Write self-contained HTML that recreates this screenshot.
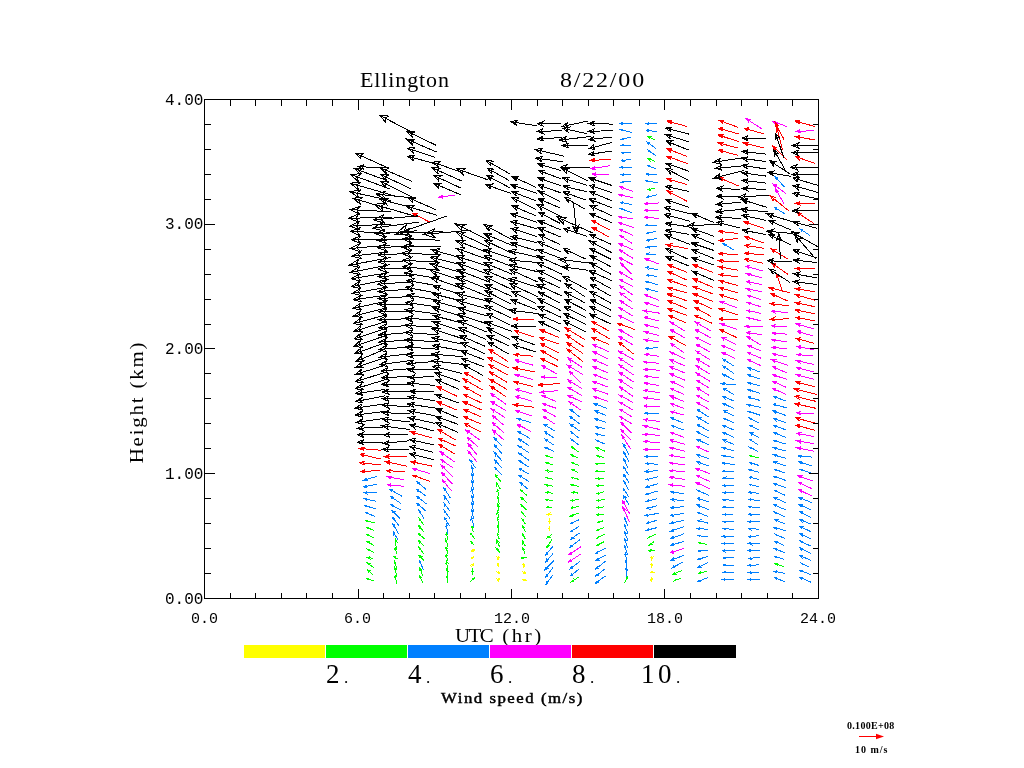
<!DOCTYPE html>
<html><head><meta charset="utf-8"><title>Ellington 8/22/00 wind profile</title>
<style>
html,body{margin:0;padding:0;background:#fff;}
body{width:1024px;height:768px;position:relative;overflow:hidden;font-family:"Liberation Serif",serif;color:#000;}
svg{position:absolute;left:0;top:0;}
.t{position:absolute;white-space:nowrap;line-height:1;}
.mono{font-family:"Liberation Mono",monospace;font-size:16px;}
.bar{position:absolute;top:645px;height:13px;width:81px;}
</style></head><body>
<div class="t" id="title1" style="left:360px;top:70px;font-size:20px;letter-spacing:0.8px;transform:scaleX(1.1);transform-origin:0 0;">Ellington</div>
<div class="t" id="title2" style="left:560px;top:70px;font-size:20px;letter-spacing:1.5px;transform:scaleX(1.2);transform-origin:0 0;">8/22/00</div>
<div class="t mono" style="left:165px;top:93px;">4.00</div>
<div class="t mono" style="left:165px;top:217px;">3.00</div>
<div class="t mono" style="left:165px;top:342px;">2.00</div>
<div class="t mono" style="left:165px;top:467px;">1.00</div>
<div class="t mono" style="left:165px;top:592px;">0.00</div>
<div class="t mono" style="font-size:15px;left:191px;top:612px;">0.0</div>
<div class="t mono" style="font-size:15px;left:344px;top:612px;">6.0</div>
<div class="t mono" style="font-size:15px;left:494px;top:612px;">12.0</div>
<div class="t mono" style="font-size:15px;left:647px;top:612px;">18.0</div>
<div class="t mono" style="font-size:15px;left:800px;top:612px;">24.0</div>
<div class="t" id="ylab" style="left:136px;top:402px;font-size:19px;letter-spacing:1.65px;transform:translate(-50%,-50%) rotate(-90deg) scaleX(1.1);">Height (km)</div>
<div class="t" id="xlab" style="left:455px;top:626px;font-size:19px;transform:scaleX(1.1);transform-origin:0 0;"><span style="letter-spacing:-1.4px">UTC</span><span style="letter-spacing:4.4px"> </span><span style="letter-spacing:2.3px">(hr)</span></div>
<div class="bar" style="left:244px;background:#ffff00;"></div>
<div class="bar" style="left:326px;background:#00ff00;"></div>
<div class="bar" style="left:408px;background:#0080ff;"></div>
<div class="bar" style="left:490px;background:#ff00ff;"></div>
<div class="bar" style="left:572px;background:#ff0000;"></div>
<div class="bar" style="left:654px;background:#000000;width:82px"></div>
<div class="t cb" style="left:326px;top:661px;font-size:27px;letter-spacing:3.5px;">2<span style="font-size:17px;letter-spacing:0;margin-left:1px;">.</span></div>
<div class="t cb" style="left:408px;top:661px;font-size:27px;letter-spacing:3.5px;">4<span style="font-size:17px;letter-spacing:0;margin-left:1px;">.</span></div>
<div class="t cb" style="left:490px;top:661px;font-size:27px;letter-spacing:3.5px;">6<span style="font-size:17px;letter-spacing:0;margin-left:1px;">.</span></div>
<div class="t cb" style="left:572px;top:661px;font-size:27px;letter-spacing:3.5px;">8<span style="font-size:17px;letter-spacing:0;margin-left:1px;">.</span></div>
<div class="t cb" style="left:641px;top:661px;font-size:27px;letter-spacing:3.5px;">10<span style="font-size:17px;letter-spacing:0;margin-left:1px;">.</span></div>
<div class="t" id="ws" style="left:441px;top:691px;font-size:15px;font-weight:normal;-webkit-text-stroke:0.45px #000;letter-spacing:1.35px;transform:scaleX(1.12);transform-origin:0 0;">Wind speed (m/s)</div>
<div class="t" id="l1" style="left:847px;top:721px;font-size:10px;font-weight:bold;letter-spacing:0.3px;">0.100E+08</div>
<div class="t" id="l2" style="left:855px;top:745px;font-size:10px;font-weight:bold;letter-spacing:1px;">10 m/s</div>
<svg width="1024" height="768" viewBox="0 0 1024 768" shape-rendering="crispEdges">
<path d="M204.5 99.5H818.5V598.5H204.5ZM230.5 99.5v6M230.5 598.5v-6M255.5 99.5v6M255.5 598.5v-6M281.5 99.5v6M281.5 598.5v-6M306.5 99.5v6M306.5 598.5v-6M332.5 99.5v6M332.5 598.5v-6M358.5 99.5v10M358.5 598.5v-10M383.5 99.5v6M383.5 598.5v-6M409.5 99.5v6M409.5 598.5v-6M434.5 99.5v6M434.5 598.5v-6M460.5 99.5v6M460.5 598.5v-6M485.5 99.5v6M485.5 598.5v-6M511.5 99.5v10M511.5 598.5v-10M537.5 99.5v6M537.5 598.5v-6M562.5 99.5v6M562.5 598.5v-6M588.5 99.5v6M588.5 598.5v-6M613.5 99.5v6M613.5 598.5v-6M639.5 99.5v6M639.5 598.5v-6M664.5 99.5v10M664.5 598.5v-10M690.5 99.5v6M690.5 598.5v-6M716.5 99.5v6M716.5 598.5v-6M741.5 99.5v6M741.5 598.5v-6M767.5 99.5v6M767.5 598.5v-6M792.5 99.5v6M792.5 598.5v-6M204.5 573.5h6M818.5 573.5h-6M204.5 548.5h6M818.5 548.5h-6M204.5 523.5h6M818.5 523.5h-6M204.5 498.5h6M818.5 498.5h-6M204.5 473.5h10M818.5 473.5h-10M204.5 448.5h6M818.5 448.5h-6M204.5 423.5h6M818.5 423.5h-6M204.5 398.5h6M818.5 398.5h-6M204.5 373.5h6M818.5 373.5h-6M204.5 348.5h10M818.5 348.5h-10M204.5 324.5h6M818.5 324.5h-6M204.5 299.5h6M818.5 299.5h-6M204.5 274.5h6M818.5 274.5h-6M204.5 249.5h6M818.5 249.5h-6M204.5 224.5h10M818.5 224.5h-10M204.5 199.5h6M818.5 199.5h-6M204.5 174.5h6M818.5 174.5h-6M204.5 149.5h6M818.5 149.5h-6M204.5 124.5h6M818.5 124.5h-6" stroke="#000" fill="none" stroke-width="1"/>
<defs><clipPath id="pc"><rect x="205" y="100" width="614" height="499"/></clipPath></defs><g clip-path="url(#pc)">
<path d="M471.6 566.9L473.6 563.4M471.8 564.9L473.6 563.4L473.2 565.8L472.9 564.7ZM474.4 557.9L470.9 557.9M473.1 558.8L470.9 557.9L473.1 557.0L472.4 557.9ZM470.7 551.3L474.5 550.0M472.1 549.9L474.5 550.0L472.7 551.6L473.1 550.5ZM498.2 577.6L498.2 581.6M499.1 579.4L498.2 581.6L497.3 579.4L498.2 580.1ZM496.3 571.7L500.1 573.0M498.3 571.5L500.1 573.0L497.7 573.1L498.7 572.5ZM498.2 567.1L498.2 563.1M497.3 565.4L498.2 563.1L499.1 565.4L498.2 564.6ZM498.2 555.9L498.2 559.9M499.1 557.7L498.2 559.9L497.3 557.7L498.2 558.4ZM521.9 578.9L525.7 580.3M523.9 578.7L525.7 580.3L523.3 580.3L524.3 579.8ZM521.9 571.7L525.7 573.0M523.9 571.5L525.7 573.0L523.3 573.1L524.3 572.5ZM523.8 563.1L523.8 567.1M524.7 564.9L523.8 567.1L522.9 564.9L523.8 565.6ZM549.4 531.0L549.4 527.0M548.5 529.2L549.4 527.0L550.2 529.2L549.4 528.4ZM549.4 523.7L549.4 519.7M548.5 522.0L549.4 519.7L550.2 522.0L549.4 521.2ZM551.9 514.5L546.9 514.5M549.1 515.3L546.9 514.5L549.1 513.6L548.4 514.5ZM651.7 581.6L651.7 577.6M650.8 579.8L651.7 577.6L652.6 579.8L651.7 579.1ZM649.7 572.4L653.7 572.4M651.5 571.5L653.7 572.4L651.5 573.2L652.2 572.4ZM651.7 563.1L651.7 567.1M652.6 564.9L651.7 567.1L650.8 564.9L651.7 565.6ZM651.7 555.9L651.7 559.9M652.6 557.7L651.7 559.9L650.8 557.7L651.7 558.4Z" stroke="#ffff00" fill="none" stroke-width="1"/>
<path d="M374.2 581.1L366.4 578.1M368.2 579.7L366.4 578.1L368.8 578.1L367.8 578.6ZM372.9 575.0L367.6 569.7M368.6 571.9L367.6 569.7L369.8 570.7L368.7 570.8ZM373.6 567.4L367.0 562.8M368.4 564.8L367.0 562.8L369.3 563.4L368.2 563.7ZM373.2 558.4L367.3 557.4M369.4 558.6L367.3 557.4L369.7 556.9L368.8 557.6ZM373.8 552.3L366.8 549.0M368.5 550.8L366.8 549.0L369.2 549.2L368.2 549.7ZM373.8 545.4L366.8 541.4M368.3 543.3L366.8 541.4L369.2 541.8L368.1 542.2ZM374.2 538.0L366.4 534.4M368.1 536.1L366.4 534.4L368.8 534.5L367.7 535.0ZM374.2 530.5L366.4 527.4M368.2 529.0L366.4 527.4L368.8 527.4L367.8 527.9ZM374.8 522.9L365.8 520.5M367.7 521.9L365.8 520.5L368.1 520.3L367.2 520.9ZM396.7 584.0L395.1 575.2M394.6 577.5L395.1 575.2L396.3 577.2L395.4 576.6ZM396.9 577.0L394.8 567.7M394.5 570.1L394.8 567.7L396.1 569.7L395.1 569.2ZM397.1 568.9L394.6 561.3M394.5 563.7L394.6 561.3L396.1 563.2L395.1 562.7ZM397.8 559.0L393.9 556.8M395.4 558.6L393.9 556.8L396.3 557.1L395.2 557.5ZM396.5 554.1L395.3 547.2M394.8 549.6L395.3 547.2L396.5 549.3L395.5 548.7ZM396.1 547.7L395.7 539.2M394.9 541.5L395.7 539.2L396.6 541.4L395.7 540.7ZM423.1 583.2L419.8 576.0M419.9 578.4L419.8 576.0L421.5 577.6L420.4 577.3ZM423.0 576.3L419.9 568.5M419.9 570.9L419.9 568.5L421.5 570.2L420.4 569.9ZM424.0 560.5L418.9 555.3M419.9 557.5L418.9 555.3L421.1 556.3L419.9 556.4ZM424.0 554.2L418.9 547.1M419.5 549.5L418.9 547.1L420.9 548.4L419.8 548.3ZM424.3 546.3L418.6 540.6M419.6 542.8L418.6 540.6L420.8 541.6L419.7 541.6ZM424.4 538.9L418.5 533.5M419.6 535.6L418.5 533.5L420.8 534.4L419.6 534.5ZM424.3 532.5L418.6 525.5M419.4 527.7L418.6 525.5L420.7 526.7L419.6 526.6ZM423.8 525.2L419.1 518.2M419.6 520.5L419.1 518.2L421.0 519.6L419.9 519.4ZM447.0 583.4L447.0 575.9M446.2 578.1L447.0 575.9L447.9 578.1L447.0 577.3ZM447.0 576.4L447.0 568.4M446.2 570.6L447.0 568.4L447.9 570.6L447.0 569.9ZM447.6 569.3L446.5 560.9M445.9 563.2L446.5 560.9L447.7 563.0L446.7 562.4ZM448.0 561.4L446.1 554.4M445.8 556.8L446.1 554.4L447.5 556.3L446.5 555.8ZM448.1 554.5L446.0 546.8M445.8 549.2L446.0 546.8L447.4 548.7L446.4 548.2ZM448.2 547.3L445.9 539.6M445.7 542.0L445.9 539.6L447.3 541.5L446.3 541.0ZM447.7 540.1L446.3 532.3M445.9 534.6L446.3 532.3L447.6 534.3L446.6 533.7ZM470.5 581.7L474.7 577.5M472.6 578.5L474.7 577.5L473.8 579.7L473.7 578.5ZM472.6 575.1L472.6 569.6M471.8 571.9L472.6 569.6L473.5 571.9L472.6 571.1ZM474.2 545.3L471.0 541.5M471.8 543.8L471.0 541.5L473.1 542.7L472.0 542.6ZM475.1 539.3L470.2 533.0M470.9 535.3L470.2 533.0L472.2 534.3L471.1 534.2ZM473.2 532.2L472.1 525.8M471.6 528.1L472.1 525.8L473.3 527.8L472.3 527.2ZM500.1 553.0L496.3 548.4M497.1 550.6L496.3 548.4L498.4 549.5L497.2 549.5ZM499.5 546.7L496.9 540.2M496.9 542.6L496.9 540.2L498.5 541.9L497.5 541.6ZM499.4 539.5L497.0 532.9M497.0 535.3L497.0 532.9L498.6 534.7L497.5 534.3ZM499.0 532.6L497.4 525.3M497.1 527.7L497.4 525.3L498.7 527.3L497.7 526.7ZM499.0 525.4L497.4 518.1M497.0 520.4L497.4 518.1L498.7 520.1L497.7 519.5ZM499.1 518.1L497.3 510.8M497.0 513.2L497.3 510.8L498.7 512.8L497.7 512.3ZM499.1 510.9L497.3 503.6M497.0 506.0L497.3 503.6L498.7 505.6L497.6 505.1ZM499.2 503.6L497.2 496.4M497.0 498.8L497.2 496.4L498.6 498.3L497.6 497.8ZM499.2 496.4L497.2 489.2M497.0 491.6L497.2 489.2L498.6 491.1L497.6 490.6ZM500.1 488.8L496.3 482.3M496.7 484.7L496.3 482.3L498.2 483.8L497.1 483.6ZM501.0 481.9L495.4 474.8M496.1 477.1L495.4 474.8L497.5 476.0L496.4 475.9ZM526.5 557.9L521.0 557.9M523.3 558.8L521.0 557.9L523.3 557.0L522.5 557.9ZM525.0 553.4L522.6 547.9M522.7 550.3L522.6 547.9L524.3 549.6L523.2 549.3ZM525.2 545.8L522.4 541.0M522.8 543.4L522.4 541.0L524.3 542.6L523.2 542.3ZM525.4 539.3L522.2 533.1M522.5 535.5L522.2 533.1L524.0 534.7L522.9 534.4ZM525.4 532.1L522.2 525.8M522.5 528.2L522.2 525.8L524.0 527.4L522.9 527.2ZM525.6 524.4L522.0 519.0M522.5 521.3L522.0 519.0L524.0 520.4L522.8 520.2ZM526.0 516.9L521.6 512.1M522.5 514.3L521.6 512.1L523.7 513.2L522.6 513.2ZM526.7 510.0L520.9 504.5M521.9 506.7L520.9 504.5L523.1 505.4L522.0 505.5ZM526.9 502.6L520.7 497.4M521.9 499.5L520.7 497.4L523.0 498.2L521.9 498.4ZM526.9 495.5L520.7 490.1M521.8 492.2L520.7 490.1L522.9 490.9L521.8 491.0ZM551.9 539.5L546.8 547.4M548.8 546.0L546.8 547.4L547.3 545.0L547.6 546.1ZM552.0 534.4L546.8 538.0M549.1 537.4L546.8 538.0L548.1 536.0L548.0 537.1ZM552.1 507.2L546.6 507.2M548.9 508.1L546.6 507.2L548.9 506.4L548.1 507.2ZM553.0 500.3L545.7 499.7M547.9 500.7L545.7 499.7L548.0 499.0L547.2 499.8ZM553.0 493.3L545.7 492.3M547.8 493.4L545.7 492.3L548.0 491.7L547.2 492.5ZM553.0 486.3L545.7 484.8M547.7 486.1L545.7 484.8L548.1 484.4L547.2 485.1ZM553.1 479.4L545.7 477.2M547.6 478.7L545.7 477.2L548.1 477.0L547.1 477.6ZM553.0 471.9L545.7 470.3M547.7 471.6L545.7 470.3L548.1 469.9L547.2 470.6ZM553.3 465.0L545.5 462.6M547.3 464.1L545.5 462.6L547.8 462.5L546.9 463.1ZM553.4 458.2L545.3 455.0M547.1 456.7L545.3 455.0L547.7 455.0L546.7 455.6ZM578.4 577.3L571.5 581.9M573.9 581.4L571.5 581.9L572.9 580.0L572.8 581.1ZM579.3 512.9L570.6 516.1M573.0 516.1L570.6 516.1L572.4 514.5L572.0 515.6ZM578.9 506.5L571.0 508.0M573.4 508.4L571.0 508.0L573.1 506.7L572.5 507.7ZM579.3 499.2L570.6 500.8M572.9 501.2L570.6 500.8L572.6 499.6L572.0 500.5ZM578.4 493.1L571.5 492.4M573.6 493.5L571.5 492.4L573.8 491.8L573.0 492.6ZM578.9 486.3L571.0 484.8M573.1 486.1L571.0 484.8L573.4 484.4L572.5 485.1ZM578.9 479.4L571.1 477.2M573.0 478.6L571.1 477.2L573.5 477.0L572.5 477.6ZM578.4 472.4L571.5 469.7M573.3 471.4L571.5 469.7L573.9 469.7L572.9 470.3ZM578.6 465.4L571.3 462.3M573.0 463.9L571.3 462.3L573.7 462.4L572.6 462.9ZM578.4 458.3L571.5 454.9M573.1 456.7L571.5 454.9L573.9 455.1L572.8 455.6ZM578.6 452.1L571.3 446.6M572.6 448.6L571.3 446.6L573.6 447.3L572.5 447.5ZM604.4 541.5L596.7 545.4M599.1 545.1L596.7 545.4L598.3 543.6L598.0 544.7ZM604.4 534.2L596.7 538.2M599.1 537.9L596.7 538.2L598.3 536.4L598.0 537.5ZM604.4 527.5L596.6 530.4M599.0 530.4L596.6 530.4L598.5 528.8L598.0 529.9ZM603.4 520.7L597.7 522.7M600.1 522.8L597.7 522.7L599.5 521.2L599.1 522.2ZM604.4 514.1L596.7 514.9M599.0 515.5L596.7 514.9L598.8 513.8L598.1 514.7ZM604.4 506.9L596.7 507.6M599.0 508.3L596.7 507.6L598.8 506.5L598.1 507.5ZM604.5 499.3L596.6 500.8M599.0 501.2L596.6 500.8L598.7 499.5L598.1 500.5ZM604.4 491.7L596.7 493.8M599.1 494.1L596.7 493.8L598.6 492.4L598.1 493.4ZM604.4 485.2L596.7 485.9M599.0 486.5L596.7 485.9L598.8 484.8L598.1 485.8ZM604.4 478.1L596.6 478.5M598.9 479.3L596.6 478.5L598.8 477.5L598.1 478.4ZM605.2 471.1L595.8 471.1M598.1 471.9L595.8 471.1L598.1 470.2L597.3 471.1ZM605.2 463.8L595.8 463.8M598.1 464.7L595.8 463.8L598.1 463.0L597.3 463.8ZM604.1 457.7L597.0 455.5M598.8 457.0L597.0 455.5L599.3 455.3L598.4 455.9ZM604.9 451.2L596.2 447.5M597.9 449.2L596.2 447.5L598.6 447.6L597.6 448.1ZM624.9 582.7L627.3 576.5M625.7 578.3L627.3 576.5L627.3 578.9L626.8 577.9ZM654.7 550.7L648.7 550.7M650.9 551.5L648.7 550.7L650.9 549.8L650.2 550.7ZM654.3 541.5L649.1 545.3M651.4 544.7L649.1 545.3L650.4 543.3L650.3 544.4ZM655.6 534.4L647.8 538.0M650.2 537.8L647.8 538.0L649.5 536.3L649.2 537.4ZM655.3 140.0L648.1 136.5M649.8 138.3L648.1 136.5L650.5 136.7L649.5 137.2ZM655.3 161.5L648.1 158.4M649.8 160.1L648.1 158.4L650.5 158.5L649.5 159.0ZM655.6 187.9L647.8 189.9M650.2 190.2L647.8 189.9L649.8 188.5L649.3 189.5ZM680.7 578.2L673.9 581.0M676.3 580.9L673.9 581.0L675.6 579.3L675.2 580.4ZM681.7 570.8L672.9 574.0M675.3 574.0L672.9 574.0L674.7 572.4L674.3 573.4ZM707.3 571.0L698.4 573.7M700.8 573.9L698.4 573.7L700.3 572.2L699.9 573.3ZM707.4 544.6L698.3 542.3M700.3 543.7L698.3 542.3L700.7 542.0L699.8 542.6ZM758.5 458.0L749.6 455.2M751.5 456.7L749.6 455.2L752.0 455.0L751.0 455.6ZM784.1 566.6L775.2 563.7M777.0 565.2L775.2 563.7L777.6 563.6L776.6 564.1Z" stroke="#00ff00" fill="none" stroke-width="1"/>
<path d="M375.2 516.7L365.4 512.3M367.2 514.1L365.4 512.3L367.9 512.4L366.8 512.9ZM376.5 509.2L364.1 505.3M366.5 507.3L364.1 505.3L367.2 505.1L365.9 505.9ZM376.4 501.4L364.2 498.6M366.7 500.3L364.2 498.6L367.2 498.2L366.0 499.0ZM376.7 493.0L363.9 492.6M366.7 493.8L363.9 492.6L366.8 491.6L365.8 492.6ZM377.2 484.3L363.4 486.8M366.7 487.4L363.4 486.8L366.3 485.0L365.4 486.4ZM377.2 476.3L363.4 480.3M366.8 480.6L363.4 480.3L366.2 478.2L365.5 479.7ZM398.5 540.5L393.3 531.9M393.7 534.3L393.3 531.9L395.2 533.4L394.1 533.2ZM398.9 534.2L392.9 523.8M393.3 526.6L392.9 523.8L395.1 525.6L393.8 525.3ZM399.3 526.1L392.5 517.4M393.3 519.9L392.5 517.4L394.8 518.7L393.5 518.7ZM400.2 518.7L391.6 510.3M392.8 512.9L391.6 510.3L394.2 511.4L392.8 511.6ZM400.8 509.7L390.9 504.8M392.7 506.8L390.9 504.8L393.6 505.1L392.4 505.6ZM401.1 503.6L390.6 496.5M392.4 499.0L390.6 496.5L393.6 497.1L392.2 497.5ZM402.1 496.4L389.7 489.2M391.8 491.9L389.7 489.2L393.1 489.7L391.5 490.3ZM423.4 569.7L419.5 560.5M419.6 562.9L419.5 560.5L421.2 562.3L420.1 561.9ZM424.1 518.7L418.8 510.2M419.3 512.6L418.8 510.2L420.7 511.7L419.6 511.5ZM426.1 511.2L416.8 503.3M418.2 505.9L416.8 503.3L419.6 504.3L418.2 504.5ZM426.3 503.8L416.7 496.3M418.2 498.8L416.7 496.3L419.5 497.1L418.1 497.4ZM426.5 496.3L416.5 489.3M418.1 491.7L416.5 489.3L419.3 490.0L417.9 490.3ZM426.1 489.5L416.8 481.6M418.2 484.2L416.8 481.6L419.6 482.6L418.2 482.8ZM447.7 533.8L446.4 524.1M445.8 526.4L446.4 524.1L447.5 526.2L446.6 525.6ZM449.5 526.1L444.5 517.4M444.9 519.8L444.5 517.4L446.4 518.9L445.3 518.7ZM449.9 518.6L444.2 510.4M444.8 512.7L444.2 510.4L446.2 511.7L445.0 511.6ZM450.0 511.3L444.1 503.2M444.7 505.5L444.1 503.2L446.1 504.5L445.0 504.4ZM450.2 504.3L443.9 495.7M444.6 498.2L443.9 495.7L446.1 497.1L444.9 497.0ZM450.3 497.8L443.8 487.7M444.4 490.6L443.8 487.7L446.1 489.4L444.7 489.2ZM474.0 526.5L471.2 516.9M471.0 519.3L471.2 516.9L472.7 518.8L471.7 518.3ZM474.0 519.3L471.3 509.7M471.1 512.1L471.3 509.7L472.7 511.6L471.7 511.1ZM473.9 512.1L471.3 502.4M471.1 504.8L471.3 502.4L472.7 504.4L471.7 503.9ZM473.9 504.9L471.4 495.2M471.1 497.6L471.4 495.2L472.8 497.1L471.7 496.6ZM473.9 497.6L471.4 487.9M471.1 490.3L471.4 487.9L472.8 489.9L471.8 489.4ZM473.8 490.4L471.4 480.7M471.1 483.1L471.4 480.7L472.8 482.7L471.8 482.1ZM473.8 483.2L471.5 473.4M471.1 475.8L471.5 473.4L472.8 475.4L471.8 474.9ZM473.7 475.9L471.5 466.2M471.2 468.6L471.5 466.2L472.8 468.2L471.8 467.7ZM475.5 467.9L469.8 459.7M470.3 462.1L469.8 459.7L471.7 461.1L470.6 461.0ZM501.6 474.7L494.8 467.4M495.7 469.6L494.8 467.4L497.0 468.5L495.8 468.5ZM502.1 468.2L494.3 459.5M495.3 462.1L494.3 459.5L496.8 460.8L495.5 460.8ZM502.1 460.9L494.3 452.3M495.3 454.9L494.3 452.3L496.8 453.6L495.5 453.6ZM502.1 453.8L494.3 444.9M495.3 447.6L494.3 444.9L496.8 446.2L495.5 446.2ZM502.4 446.5L494.0 437.8M495.2 440.5L494.0 437.8L496.7 439.0L495.3 439.1ZM527.5 488.7L520.0 482.4M521.2 484.5L520.0 482.4L522.3 483.2L521.2 483.4ZM528.7 481.5L518.9 475.2M520.6 477.4L518.9 475.2L521.7 475.7L520.4 476.1ZM528.5 474.0L519.1 468.2M520.7 470.3L519.1 468.2L521.7 468.7L520.5 469.0ZM528.5 467.0L519.1 460.7M520.7 462.9L519.1 460.7L521.8 461.3L520.5 461.6ZM528.9 460.4L518.7 452.9M520.4 455.4L518.7 452.9L521.6 453.7L520.2 454.0ZM529.2 452.9L518.3 445.8M520.2 448.4L518.3 445.8L521.4 446.5L520.0 446.9ZM529.2 445.7L518.3 438.6M520.2 441.1L518.3 438.6L521.4 439.2L520.0 439.6ZM530.0 438.4L517.6 431.4M519.8 434.0L517.6 431.4L521.0 431.9L519.4 432.5ZM530.6 422.5L517.0 418.4M519.7 420.5L517.0 418.4L520.4 418.1L519.0 419.0ZM553.0 574.8L545.8 584.4M548.2 582.9L545.8 584.4L546.6 581.6L546.8 583.0ZM553.1 567.5L545.7 577.3M548.2 575.7L545.7 577.3L546.5 574.4L546.8 575.8ZM554.1 560.3L544.7 570.0M547.6 568.6L544.7 570.0L546.0 567.0L546.1 568.5ZM553.0 553.6L545.7 562.2M548.1 560.9L545.7 562.2L546.6 559.7L546.8 560.9ZM553.0 546.3L545.7 555.0M548.1 553.7L545.7 555.0L546.6 552.4L546.8 553.7ZM553.8 451.4L544.9 447.3M546.6 449.0L544.9 447.3L547.3 447.5L546.3 448.0ZM553.8 445.1L544.9 439.1M546.4 441.2L544.9 439.1L547.4 439.7L546.3 440.0ZM554.2 438.3L544.5 431.5M546.1 433.8L544.5 431.5L547.3 432.2L546.0 432.5ZM555.1 431.2L543.7 424.1M545.6 426.7L543.7 424.1L546.8 424.7L545.4 425.2ZM579.5 568.7L570.4 576.0M573.1 575.2L570.4 576.0L571.8 573.6L571.8 575.0ZM580.1 561.2L569.8 569.0M572.8 568.2L569.8 569.0L571.4 566.4L571.3 567.9ZM580.1 539.5L569.8 547.3M572.8 546.5L569.8 547.3L571.4 544.7L571.3 546.2ZM579.3 533.1L570.6 539.3M573.1 538.6L570.6 539.3L572.0 537.1L571.9 538.3ZM579.3 526.2L570.6 531.7M573.0 531.2L570.6 531.7L572.1 529.7L571.9 530.9ZM579.3 519.6L570.6 523.8M573.0 523.6L570.6 523.8L572.2 522.1L571.9 523.2ZM579.1 445.3L570.8 439.0M572.1 441.1L570.8 439.0L573.2 439.7L572.0 439.9ZM579.1 438.3L570.8 431.5M572.1 433.8L570.8 431.5L573.2 432.3L572.0 432.5ZM580.0 431.2L569.9 424.1M571.5 426.6L569.9 424.1L572.8 424.8L571.4 425.2ZM580.1 424.3L569.8 416.5M571.4 419.2L569.8 416.5L572.8 417.4L571.3 417.7ZM580.2 417.3L569.7 409.1M571.4 411.8L569.7 409.1L572.8 410.0L571.3 410.3ZM605.5 575.9L595.6 583.3M598.5 582.5L595.6 583.3L597.2 580.8L597.1 582.2ZM605.5 568.5L595.6 576.2M598.5 575.3L595.6 576.2L597.2 573.6L597.1 575.1ZM605.5 561.3L595.6 569.0M598.5 568.1L595.6 569.0L597.2 566.4L597.1 567.8ZM605.5 555.2L595.6 560.6M598.3 560.3L595.6 560.6L597.3 558.6L597.1 559.8ZM605.4 548.1L595.6 553.3M598.3 552.9L595.6 553.3L597.4 551.3L597.1 552.5ZM605.2 444.2L595.8 440.0M597.6 441.8L595.8 440.0L598.3 440.2L597.2 440.7ZM605.3 436.1L595.8 433.7M597.8 435.1L595.8 433.7L598.2 433.4L597.2 434.1ZM605.4 428.5L595.7 426.9M597.8 428.1L595.7 426.9L598.1 426.4L597.2 427.1ZM606.3 422.3L594.7 418.5M597.0 420.4L594.7 418.5L597.7 418.4L596.5 419.1ZM606.3 415.5L594.7 410.9M596.9 412.9L594.7 410.9L597.7 410.9L596.5 411.6ZM607.2 408.5L593.9 403.4M596.4 405.7L593.9 403.4L597.3 403.4L595.9 404.2ZM626.0 577.4L626.3 567.4M625.4 569.6L626.3 567.4L627.1 569.6L626.2 568.9ZM626.1 570.1L626.1 560.1M625.3 562.4L626.1 560.1L627.0 562.4L626.1 561.6ZM627.0 562.8L625.3 553.0M624.8 555.3L625.3 553.0L626.5 555.0L625.5 554.4ZM627.7 555.4L624.6 545.9M624.5 548.3L624.6 545.9L626.1 547.8L625.0 547.3ZM628.0 548.1L624.3 538.8M624.3 541.2L624.3 538.8L625.9 540.5L624.8 540.2ZM628.1 540.8L624.2 531.6M624.3 534.0L624.2 531.6L625.8 533.3L624.8 533.0ZM628.1 533.6L624.2 524.4M624.3 526.8L624.2 524.4L625.8 526.1L624.8 525.7ZM628.2 526.6L624.1 516.9M624.2 519.4L624.1 516.9L625.8 518.7L624.7 518.3ZM628.7 504.5L623.5 495.5M623.9 498.0L623.5 495.5L625.5 497.1L624.3 496.9ZM628.7 496.9L623.6 488.7M624.0 491.1L623.6 488.7L625.5 490.2L624.4 490.0ZM628.4 489.8L623.9 481.3M624.2 483.7L623.9 481.3L625.7 482.9L624.6 482.6ZM628.9 482.4L623.4 474.2M623.9 476.6L623.4 474.2L625.4 475.6L624.2 475.5ZM628.7 475.1L623.6 467.0M624.0 469.4L623.6 467.0L625.5 468.4L624.4 468.3ZM628.3 468.3L623.9 459.3M624.1 461.7L623.9 459.3L625.7 461.0L624.6 460.7ZM628.9 461.4L623.4 451.8M623.8 454.4L623.4 451.8L625.4 453.5L624.2 453.3ZM629.2 455.0L623.0 443.8M623.4 446.8L623.0 443.8L625.4 445.7L623.9 445.4ZM632.2 124.0L620.0 123.5M622.7 124.7L620.0 123.5L622.8 122.6L621.8 123.6ZM632.2 132.5L620.0 129.5M622.5 131.3L620.0 129.5L623.0 129.2L621.8 130.0ZM631.0 137.1L621.2 139.5M623.6 139.8L621.2 139.5L623.2 138.1L622.7 139.1ZM631.0 145.5L621.2 145.5M623.5 146.3L621.2 145.5L623.5 144.6L622.7 145.5ZM631.0 152.6L621.2 152.8M623.5 153.6L621.2 152.8L623.5 151.9L622.7 152.8ZM631.0 159.2L621.2 160.8M623.6 161.3L621.2 160.8L623.3 159.6L622.7 160.5ZM632.2 167.0L620.0 167.4M622.8 168.4L620.0 167.4L622.7 166.2L621.8 167.3ZM631.0 174.1L621.2 174.7M623.5 175.5L621.2 174.7L623.4 173.7L622.7 174.7ZM631.0 181.0L621.2 182.3M623.6 182.9L621.2 182.3L623.4 181.2L622.7 182.1ZM631.9 204.5L620.3 202.3M622.7 203.8L620.3 202.3L623.1 201.8L622.0 202.6ZM632.2 212.9L620.0 208.3M622.3 210.4L620.0 208.3L623.1 208.3L621.8 209.0ZM656.7 527.7L646.7 530.2M649.2 530.5L646.7 530.2L648.7 528.8L648.2 529.8ZM656.7 520.4L646.7 523.1M649.2 523.3L646.7 523.1L648.7 521.6L648.2 522.7ZM658.5 513.3L644.9 515.7M648.2 516.3L644.9 515.7L647.8 514.0L646.9 515.3ZM656.7 505.7L646.7 508.8M649.2 509.0L646.7 508.8L648.7 507.2L648.2 508.3ZM657.2 498.6L646.2 501.4M648.9 501.7L646.2 501.4L648.4 499.8L647.9 501.0ZM657.6 491.0L645.8 494.6M648.7 494.8L645.8 494.6L648.1 492.8L647.5 494.1ZM657.7 483.8L645.7 487.3M648.7 487.5L645.7 487.3L648.1 485.5L647.5 486.7ZM657.7 476.9L645.8 479.7M648.7 480.1L645.8 479.7L648.2 478.0L647.5 479.3ZM658.2 470.5L645.2 471.7M648.2 472.5L645.2 471.7L648.0 470.3L647.2 471.5ZM657.9 464.3L645.5 463.4M648.2 464.7L645.5 463.4L648.3 462.5L647.3 463.5ZM658.5 456.8L644.9 456.4M647.9 457.6L644.9 456.4L648.0 455.3L646.9 456.4ZM658.5 413.2L644.9 413.2M648.0 414.4L644.9 413.2L648.0 412.0L646.9 413.2ZM657.8 347.8L645.6 348.3M648.4 349.3L645.6 348.3L648.3 347.2L647.4 348.3ZM657.8 291.8L645.6 288.6M648.1 290.4L645.6 288.6L648.6 288.3L647.4 289.1ZM657.8 284.7L645.6 281.2M648.0 283.0L645.6 281.2L648.7 281.0L647.4 281.7ZM657.2 276.3L646.2 275.2M648.6 276.4L646.2 275.2L648.8 274.5L647.9 275.4ZM657.8 269.7L645.6 267.3M648.1 268.9L645.6 267.3L648.6 266.8L647.4 267.6ZM657.2 254.0L646.2 254.1M648.7 255.0L646.2 254.1L648.7 253.1L647.9 254.1ZM657.2 246.3L646.2 247.3M648.8 248.0L646.2 247.3L648.6 246.1L647.9 247.1ZM657.2 238.4L646.2 240.7M648.9 241.1L646.2 240.7L648.5 239.2L647.9 240.4ZM657.3 124.0L646.1 123.5M648.6 124.6L646.1 123.5L648.7 122.7L647.8 123.6ZM657.3 131.9L646.1 130.1M648.5 131.5L646.1 130.1L648.8 129.6L647.8 130.4ZM656.2 148.9L647.2 142.1M648.6 144.4L647.2 142.1L649.8 142.9L648.5 143.1ZM655.6 155.6L647.8 149.9M649.1 151.9L647.8 149.9L650.1 150.5L649.0 150.7ZM656.2 169.0L647.2 165.4M649.0 167.0L647.2 165.4L649.6 165.4L648.6 166.0ZM657.3 174.9L646.1 174.0M648.5 175.1L646.1 174.0L648.7 173.2L647.8 174.1ZM658.1 183.0L645.3 180.4M648.0 182.1L645.3 180.4L648.4 179.9L647.2 180.8ZM657.3 194.5L646.1 197.8M648.9 198.0L646.1 197.8L648.3 196.1L647.8 197.3ZM658.1 225.0L645.3 225.2M648.2 226.2L645.3 225.2L648.2 224.0L647.2 225.1ZM656.5 231.5L646.9 233.1M649.2 233.6L646.9 233.1L648.9 231.9L648.3 232.9ZM682.5 562.2L672.0 568.0M674.9 567.6L672.0 568.0L673.9 565.8L673.6 567.2ZM683.7 555.4L670.8 560.4M674.2 560.4L670.8 560.4L673.3 558.2L672.8 559.6ZM684.1 541.3L670.5 545.5M673.9 545.8L670.5 545.5L673.2 543.4L672.5 544.9ZM683.7 533.9L670.9 538.5M674.2 538.6L670.9 538.5L673.4 536.4L672.8 537.8ZM684.1 526.7L670.5 531.2M673.9 531.3L670.5 531.2L673.2 529.0L672.5 530.5ZM684.3 520.2L670.3 523.3M673.7 523.8L670.3 523.3L673.2 521.4L672.4 522.8ZM684.3 513.3L670.2 515.7M673.6 516.3L670.2 515.7L673.2 513.9L672.3 515.3ZM683.7 506.7L670.9 507.8M673.8 508.7L670.9 507.8L673.6 506.5L672.8 507.6ZM683.7 500.6L670.9 499.5M673.6 500.8L670.9 499.5L673.8 498.6L672.8 499.6ZM683.7 493.7L670.9 491.9M673.6 493.4L670.9 491.9L673.9 491.2L672.8 492.1ZM683.5 430.0L671.1 425.3M673.5 427.4L671.1 425.3L674.3 425.3L672.9 426.0ZM683.5 423.2L671.1 417.7M673.4 420.0L671.1 417.7L674.3 417.9L672.9 418.5ZM707.8 577.5L698.0 581.7M700.5 581.6L698.0 581.7L699.8 579.9L699.4 581.1ZM707.8 562.8L697.9 567.4M700.5 567.3L697.9 567.4L699.8 565.6L699.4 566.7ZM707.8 556.3L698.0 559.5M700.4 559.6L698.0 559.5L699.9 557.9L699.4 559.0ZM707.8 550.2L697.9 551.1M700.3 551.8L697.9 551.1L700.1 550.0L699.4 551.0ZM707.8 536.8L698.0 535.6M700.1 536.7L698.0 535.6L700.3 535.0L699.4 535.8ZM708.2 529.3L697.5 528.6M699.9 529.7L697.5 528.6L700.0 527.8L699.1 528.7ZM708.2 523.2L697.6 520.2M699.7 521.8L697.6 520.2L700.2 520.0L699.2 520.7ZM708.2 516.6L697.5 512.3M699.6 514.2L697.5 512.3L700.3 512.4L699.1 513.0ZM708.7 509.6L697.0 504.9M699.2 507.0L697.0 504.9L700.1 504.9L698.8 505.6ZM708.7 502.0L697.0 498.1M699.3 499.9L697.0 498.1L700.0 497.9L698.8 498.6ZM709.1 495.5L696.7 490.0M699.0 492.3L696.7 490.0L699.9 490.2L698.5 490.8ZM709.3 466.2L696.5 461.5M698.9 463.7L696.5 461.5L699.7 461.5L698.4 462.2ZM709.3 458.9L696.5 454.3M698.9 456.4L696.5 454.3L699.7 454.2L698.4 455.0ZM709.1 445.1L696.6 439.2M698.9 441.6L696.6 439.2L699.9 439.4L698.5 440.1ZM708.6 438.0L697.1 431.8M699.2 434.2L697.1 431.8L700.2 432.2L698.8 432.7ZM708.7 430.9L697.1 424.4M699.1 426.8L697.1 424.4L700.2 424.9L698.8 425.4ZM708.6 423.9L697.1 416.9M699.1 419.5L697.1 416.9L700.3 417.5L698.8 418.0ZM708.7 417.1L697.1 409.3M699.0 412.0L697.1 409.3L700.3 410.0L698.8 410.4ZM733.6 249.8L723.3 243.8M725.1 246.0L723.3 243.8L726.1 244.2L724.8 244.7ZM734.3 579.6L722.6 579.6M725.2 580.6L722.6 579.6L725.2 578.6L724.3 579.6ZM734.0 572.4L723.0 572.4M725.4 573.3L723.0 572.4L725.4 571.4L724.6 572.4ZM734.0 565.1L723.0 565.1M725.4 566.1L723.0 565.1L725.4 564.2L724.6 565.1ZM734.0 557.7L723.0 558.1M725.5 558.9L723.0 558.1L725.4 557.1L724.6 558.0ZM734.7 550.6L722.2 550.8M725.0 551.8L722.2 550.8L725.0 549.6L724.1 550.7ZM734.3 543.4L722.6 543.4M725.2 544.4L722.6 543.4L725.2 542.4L724.3 543.4ZM734.3 536.0L722.6 536.4M725.3 537.3L722.6 536.4L725.2 535.3L724.4 536.3ZM733.9 529.3L723.0 528.6M725.4 529.7L723.0 528.6L725.5 527.8L724.6 528.7ZM734.0 521.7L723.0 521.7M725.4 522.7L723.0 521.7L725.4 520.8L724.6 521.7ZM733.4 514.5L723.6 514.5M725.8 515.3L723.6 514.5L725.8 513.6L725.0 514.5ZM734.0 507.2L723.0 507.2M725.4 508.2L723.0 507.2L725.4 506.3L724.6 507.2ZM734.0 500.2L723.0 499.8M725.4 500.9L723.0 499.8L725.5 499.0L724.6 499.9ZM734.0 493.0L723.0 492.6M725.4 493.6L723.0 492.6L725.5 491.7L724.6 492.6ZM734.0 485.5L723.0 485.5M725.4 486.5L723.0 485.5L725.4 484.6L724.6 485.5ZM734.3 478.5L722.6 478.1M725.2 479.2L722.6 478.1L725.3 477.2L724.4 478.2ZM734.3 471.1L722.6 471.1M725.2 472.1L722.6 471.1L725.2 470.1L724.3 471.1ZM734.9 464.6L722.1 463.1M724.8 464.5L722.1 463.1L725.1 462.3L724.0 463.3ZM734.3 457.6L722.6 455.6M725.0 457.0L722.6 455.6L725.4 455.0L724.3 455.9ZM734.3 450.9L722.7 447.8M725.0 449.5L722.7 447.8L725.5 447.5L724.4 448.3ZM734.3 444.5L722.6 439.8M724.8 441.8L722.6 439.8L725.6 439.8L724.4 440.5ZM733.9 437.4L723.0 432.4M725.0 434.4L723.0 432.4L725.9 432.6L724.6 433.1ZM733.9 430.0L723.0 425.3M725.0 427.3L723.0 425.3L725.8 425.4L724.6 426.0ZM733.5 422.8L723.4 418.1M725.3 420.0L723.4 418.1L726.1 418.3L724.9 418.8ZM733.5 415.9L723.4 410.5M725.2 412.6L723.4 410.5L726.1 410.8L724.9 411.3ZM733.9 408.5L723.0 403.4M725.0 405.5L723.0 403.4L725.9 403.6L724.6 404.2ZM734.3 401.3L722.6 396.1M724.8 398.3L722.6 396.1L725.7 396.3L724.4 396.9ZM733.9 394.6L723.0 388.3M724.9 390.7L723.0 388.3L726.0 388.8L724.6 389.3ZM735.5 385.0L721.5 383.5M724.5 385.0L721.5 383.5L724.7 382.6L723.5 383.7ZM734.3 380.1L722.6 373.9M724.7 376.3L722.6 373.9L725.8 374.3L724.3 374.8ZM733.9 373.5L723.0 366.0M724.8 368.7L723.0 366.0L726.1 366.8L724.6 367.1ZM733.9 366.1L723.0 359.0M724.8 361.5L723.0 359.0L726.1 359.7L724.6 360.1ZM759.5 579.6L748.5 579.6M751.0 580.5L748.5 579.6L751.0 578.7L750.2 579.6ZM759.5 572.3L748.5 572.5M751.0 573.4L748.5 572.5L751.0 571.5L750.2 572.4ZM759.5 564.8L748.5 565.4M751.1 566.2L748.5 565.4L751.0 564.3L750.2 565.3ZM759.5 557.1L748.6 558.7M751.2 559.3L748.6 558.7L750.9 557.4L750.2 558.4ZM760.3 550.7L747.8 550.7M750.6 551.7L747.8 550.7L750.6 549.6L749.7 550.7ZM759.5 543.4L748.5 543.4M751.0 544.4L748.5 543.4L751.0 542.5L750.2 543.4ZM759.5 535.6L748.6 536.8M751.1 537.4L748.6 536.8L750.9 535.6L750.2 536.6ZM759.5 529.1L748.5 528.8M751.0 529.8L748.5 528.8L751.0 527.9L750.2 528.8ZM760.0 521.7L748.1 521.7M750.8 522.7L748.1 521.7L750.8 520.7L749.9 521.7ZM759.5 514.9L748.6 514.1M750.9 515.2L748.6 514.1L751.1 513.3L750.2 514.2ZM759.5 508.0L748.6 506.5M750.9 507.8L748.6 506.5L751.2 505.9L750.2 506.7ZM759.5 500.6L748.6 499.4M750.9 500.6L748.6 499.4L751.1 498.8L750.2 499.6ZM759.5 493.4L748.6 492.2M750.9 493.4L748.6 492.2L751.1 491.5L750.2 492.3ZM758.8 486.9L749.2 484.2M751.2 485.6L749.2 484.2L751.6 484.0L750.7 484.6ZM758.9 479.5L749.2 477.1M751.2 478.5L749.2 477.1L751.6 476.8L750.6 477.5ZM758.8 472.3L749.3 469.9M751.3 471.3L749.3 469.9L751.7 469.6L750.7 470.2ZM758.7 465.4L749.3 462.3M751.2 463.8L749.3 462.3L751.7 462.2L750.8 462.7ZM758.4 451.6L749.7 447.1M751.3 448.9L749.7 447.1L752.1 447.4L751.0 447.8ZM758.2 444.9L749.8 439.4M751.3 441.4L749.8 439.4L752.2 439.9L751.1 440.2ZM758.7 437.5L749.4 432.3M751.0 434.3L749.4 432.3L751.9 432.7L750.8 433.1ZM759.2 430.2L748.9 425.1M750.8 427.1L748.9 425.1L751.6 425.4L750.4 425.9ZM759.2 423.0L748.9 417.9M750.8 419.9L748.9 417.9L751.6 418.1L750.4 418.6ZM760.2 415.2L747.9 411.2M750.3 413.1L747.9 411.2L751.0 411.0L749.7 411.8ZM760.8 407.3L747.3 404.6M750.1 406.4L747.3 404.6L750.5 404.1L749.3 405.0ZM760.3 400.5L747.8 397.0M750.3 398.9L747.8 397.0L750.9 396.7L749.6 397.5ZM759.8 393.3L748.3 389.7M750.6 391.5L748.3 389.7L751.2 389.5L750.0 390.2ZM760.3 386.1L747.8 382.4M750.3 384.3L747.8 382.4L750.9 382.2L749.7 382.9ZM760.3 379.1L747.8 374.9M750.2 376.9L747.8 374.9L751.0 374.8L749.6 375.5ZM760.3 372.1L747.8 367.4M750.2 369.6L747.8 367.4L751.0 367.4L749.7 368.1ZM784.5 581.6L774.7 577.6M776.6 579.3L774.7 577.6L777.3 577.7L776.2 578.2ZM785.0 573.3L774.2 571.4M776.5 572.8L774.2 571.4L776.8 570.9L775.8 571.7ZM784.5 559.5L774.7 556.3M776.6 557.9L774.7 556.3L777.2 556.2L776.2 556.8ZM784.6 552.5L774.7 548.9M776.6 550.5L774.7 548.9L777.2 548.8L776.2 549.4ZM784.5 545.5L774.7 541.3M776.5 543.1L774.7 541.3L777.3 541.4L776.2 542.0ZM784.6 538.4L774.7 534.0M776.5 535.8L774.7 534.0L777.3 534.1L776.2 534.6ZM785.6 530.6L773.6 527.4M776.0 529.1L773.6 527.4L776.6 527.0L775.4 527.8ZM784.5 523.6L774.7 519.8M776.6 521.5L774.7 519.8L777.2 519.8L776.2 520.4ZM785.1 517.0L774.2 511.9M776.2 514.0L774.2 511.9L777.1 512.2L775.8 512.7ZM785.6 509.8L773.6 504.7M775.9 506.9L773.6 504.7L776.8 504.8L775.4 505.5ZM785.6 502.5L773.6 497.5M775.9 499.7L773.6 497.5L776.7 497.6L775.4 498.3ZM785.1 495.3L774.2 490.3M776.2 492.3L774.2 490.3L777.0 490.5L775.8 491.0ZM785.6 487.4L773.6 483.7M776.0 485.6L773.6 483.7L776.6 483.5L775.4 484.3ZM785.6 480.4L773.6 476.2M776.0 478.2L773.6 476.2L776.7 476.1L775.4 476.9ZM785.3 473.1L774.0 469.0M776.2 470.9L774.0 469.0L776.9 469.0L775.7 469.6ZM785.6 465.7L773.6 462.0M776.0 463.9L773.6 462.0L776.6 461.8L775.4 462.6ZM785.6 458.3L773.6 454.9M776.0 456.7L773.6 454.9L776.6 454.6L775.4 455.4ZM785.6 450.9L773.6 447.8M776.0 449.5L773.6 447.8L776.6 447.5L775.4 448.3ZM785.6 444.0L773.6 440.3M776.0 442.2L773.6 440.3L776.6 440.1L775.4 440.9ZM785.6 437.4L773.6 432.4M775.9 434.5L773.6 432.4L776.8 432.5L775.4 433.1ZM785.6 429.7L773.6 425.6M776.0 427.6L773.6 425.6L776.7 425.5L775.4 426.2ZM786.1 422.8L773.1 418.1M775.6 420.2L773.1 418.1L776.5 418.0L775.1 418.8ZM786.3 415.7L773.0 410.7M775.5 413.0L773.0 410.7L776.4 410.7L775.0 411.4ZM786.5 407.8L772.8 404.1M775.5 406.1L772.8 404.1L776.2 403.8L774.8 404.7ZM786.3 401.2L773.0 396.2M775.5 398.5L773.0 396.2L776.4 396.2L775.0 397.0ZM784.2 186.9L775.0 176.5M776.2 179.6L775.0 176.5L778.0 178.0L776.4 178.0ZM784.9 213.9L774.4 207.3M776.2 209.7L774.4 207.3L777.3 207.9L775.9 208.3ZM810.7 582.1L799.7 577.1M801.8 579.2L799.7 577.1L802.6 577.3L801.4 577.9ZM810.7 574.5L799.7 570.3M801.8 572.1L799.7 570.3L802.6 570.3L801.4 570.9ZM809.6 567.3L800.8 563.0M802.4 564.7L800.8 563.0L803.2 563.2L802.1 563.6ZM810.7 560.4L799.7 555.4M801.8 557.5L799.7 555.4L802.6 555.6L801.4 556.1ZM810.7 553.4L799.7 547.9M801.7 550.1L799.7 547.9L802.7 548.2L801.4 548.7ZM810.6 546.0L799.8 540.9M801.8 543.0L799.8 540.9L802.6 541.1L801.4 541.6ZM810.7 538.7L799.7 533.7M801.8 535.8L799.7 533.7L802.6 533.9L801.4 534.4ZM810.6 531.5L799.8 526.4M801.8 528.5L799.8 526.4L802.6 526.6L801.4 527.2ZM810.7 524.0L799.7 519.4M801.8 521.4L799.7 519.4L802.6 519.5L801.4 520.1ZM810.7 517.4L799.7 511.6M801.7 513.8L799.7 511.6L802.7 511.9L801.4 512.4ZM811.6 510.2L798.9 504.3M801.2 506.7L798.9 504.3L802.2 504.5L800.8 505.2ZM811.6 502.5L798.8 497.5M801.3 499.7L798.8 497.5L802.1 497.5L800.7 498.3ZM810.6 473.0L799.8 469.1M801.9 470.9L799.8 469.1L802.6 469.1L801.4 469.7ZM811.6 465.9L798.8 461.8M801.3 463.8L798.8 461.8L802.0 461.6L800.7 462.4ZM812.3 457.1L798.1 456.1M801.2 457.6L798.1 456.1L801.4 455.1L800.2 456.3ZM810.1 235.6L800.3 229.0M801.9 231.3L800.3 229.0L803.1 229.7L801.8 230.0Z" stroke="#0080ff" fill="none" stroke-width="1"/>
<path d="M404.3 486.3L387.4 484.8M391.1 486.6L387.4 484.8L391.3 483.7L389.9 485.0ZM404.2 479.8L387.5 476.8M391.0 478.9L387.5 476.8L391.5 476.1L390.0 477.3ZM430.4 473.6L412.6 468.5M416.1 471.2L412.6 468.5L417.0 468.1L415.2 469.3ZM451.7 491.1L442.4 480.0M443.5 483.3L442.4 480.0L445.4 481.7L443.8 481.6ZM452.5 484.0L441.6 472.6M443.0 476.1L441.6 472.6L445.0 474.2L443.2 474.3ZM452.7 476.7L441.4 465.4M442.9 468.9L441.4 465.4L444.9 467.0L443.1 467.1ZM453.3 468.1L440.8 459.5M442.8 462.5L440.8 459.5L444.3 460.4L442.6 460.8ZM454.3 461.9L439.8 451.3M442.1 454.9L439.8 451.3L444.0 452.5L442.0 452.9ZM455.4 195.2L438.6 197.1M442.6 198.1L438.6 197.1L442.2 195.2L441.1 196.8ZM477.2 462.2L468.1 451.0M469.1 454.3L468.1 451.0L471.1 452.7L469.4 452.6ZM477.3 455.2L467.9 443.5M469.0 447.0L467.9 443.5L471.0 445.3L469.3 445.3ZM478.1 446.9L467.2 437.4M468.8 440.5L467.2 437.4L470.4 438.6L468.8 438.8ZM479.6 439.8L465.7 430.0M467.9 433.4L465.7 430.0L469.6 431.0L467.7 431.5ZM503.7 439.8L492.7 430.0M494.3 433.1L492.7 430.0L496.0 431.2L494.4 431.4ZM503.9 432.8L492.5 422.6M494.2 425.8L492.5 422.6L495.9 423.9L494.2 424.1ZM504.3 425.5L492.1 415.3M494.0 418.7L492.1 415.3L495.7 416.6L493.9 416.8ZM505.0 417.5L491.4 408.9M493.7 412.0L491.4 408.9L495.2 409.7L493.5 410.2ZM505.9 410.7L490.5 401.3M493.2 404.7L490.5 401.3L494.8 402.0L492.8 402.7ZM505.8 404.1L490.6 393.4M493.1 397.1L490.6 393.4L494.9 394.5L492.9 395.0ZM530.7 431.2L516.9 424.2M519.4 426.9L516.9 424.2L520.6 424.6L519.0 425.2ZM532.2 416.1L515.4 410.3M518.6 413.0L515.4 410.3L519.6 410.1L517.9 411.2ZM532.4 401.4L515.2 396.1M518.6 398.8L515.2 396.1L519.5 395.8L517.7 396.9ZM532.4 393.8L515.2 389.2M518.7 391.7L515.2 389.2L519.4 388.7L517.8 389.9ZM532.8 379.6L514.8 374.4M518.4 377.1L514.8 374.4L519.3 374.1L517.5 375.2ZM532.8 365.1L514.8 360.0M518.4 362.7L514.8 360.0L519.3 359.6L517.5 360.7ZM555.5 424.4L543.3 416.5M545.3 419.3L543.3 416.5L546.7 417.2L545.1 417.7ZM555.9 416.7L542.9 409.7M545.2 412.4L542.9 409.7L546.4 410.1L544.8 410.7ZM556.3 408.3L542.5 403.6M545.2 405.8L542.5 403.6L546.0 403.5L544.5 404.3ZM556.2 401.5L542.6 395.9M545.1 398.3L542.6 395.9L546.1 396.0L544.6 396.7ZM558.2 390.6L540.5 392.4M544.7 393.5L540.5 392.4L544.3 390.5L543.2 392.1ZM557.4 377.0L541.4 377.0M545.0 378.4L541.4 377.0L545.0 375.6L543.8 377.0ZM557.2 374.1L541.6 365.5M544.3 368.7L541.6 365.5L545.8 366.1L543.9 366.8ZM581.3 553.6L568.6 562.2M572.2 561.4L568.6 562.2L570.7 559.2L570.5 560.9ZM581.0 546.6L568.9 554.7M572.3 553.9L568.9 554.7L570.9 551.9L570.7 553.5ZM580.9 410.1L569.0 401.9M571.0 404.7L569.0 401.9L572.4 402.7L570.8 403.1ZM582.2 402.1L567.7 395.3M570.4 398.1L567.7 395.3L571.5 395.6L569.9 396.4ZM582.2 395.8L567.7 387.2M570.2 390.4L567.7 387.2L571.7 387.9L569.8 388.5ZM582.2 388.8L567.7 379.8M570.2 383.0L567.7 379.8L571.8 380.5L569.9 381.1ZM580.6 382.5L569.3 371.5M570.9 375.0L569.3 371.5L572.8 373.0L571.0 373.2ZM582.8 374.5L567.2 365.1M569.8 368.5L567.2 365.1L571.5 365.9L569.5 366.5ZM582.2 367.4L567.7 357.7M570.1 361.1L567.7 357.7L571.8 358.6L569.9 359.1ZM608.2 358.9L592.8 351.7M595.7 354.7L592.8 351.7L596.9 352.0L595.1 352.8ZM608.6 351.7L592.5 344.4M595.5 347.4L592.5 344.4L596.7 344.7L594.9 345.5ZM607.6 401.3L593.5 396.2M596.2 398.5L593.5 396.2L597.1 396.1L595.6 396.9ZM608.1 394.2L593.0 388.8M595.9 391.3L593.0 388.8L596.9 388.7L595.3 389.6ZM608.3 387.2L592.7 381.3M595.7 383.9L592.7 381.3L596.8 381.3L595.1 382.2ZM608.3 380.0L592.7 374.0M595.7 376.7L592.7 374.0L596.8 374.0L595.1 374.9ZM608.3 373.1L592.7 366.4M595.7 369.3L592.7 366.4L596.8 366.6L595.1 367.4ZM608.3 366.0L592.8 359.1M595.7 362.0L592.8 359.1L596.9 359.3L595.1 360.1ZM610.0 165.7L591.1 168.7M595.6 169.7L591.1 168.7L595.1 166.4L593.9 168.3ZM609.2 174.9L591.9 174.0M595.7 175.7L591.9 174.0L595.8 172.7L594.5 174.1ZM633.7 359.7L618.5 350.9M621.2 354.2L618.5 350.9L622.7 351.6L620.8 352.2ZM633.5 345.2L618.8 336.5M621.3 339.7L618.8 336.5L622.8 337.2L620.9 337.8ZM633.2 337.7L619.1 329.5M621.5 332.6L619.1 329.5L622.9 330.1L621.2 330.7ZM634.0 322.8L618.3 315.5M621.2 318.5L618.3 315.5L622.4 315.8L620.6 316.6ZM633.2 316.2L619.1 307.6M621.5 310.7L619.1 307.6L623.0 308.3L621.2 308.9ZM632.4 308.7L619.8 300.6M622.0 303.5L619.8 300.6L623.4 301.3L621.7 301.8ZM632.4 302.2L619.8 292.6M621.8 295.9L619.8 292.6L623.5 293.7L621.7 294.1ZM632.4 294.7L619.8 285.7M621.9 288.8L619.8 285.7L623.4 286.6L621.7 287.0ZM632.9 286.7L619.4 279.3M621.8 282.1L619.4 279.3L623.0 279.8L621.4 280.4ZM632.9 279.8L619.4 271.7M621.7 274.7L619.4 271.7L623.1 272.3L621.4 272.9ZM631.6 274.2L620.6 262.8M622.1 266.3L620.6 262.8L624.1 264.4L622.3 264.5ZM632.9 264.8L619.4 257.7M621.8 260.5L619.4 257.7L623.0 258.2L621.4 258.8ZM632.9 258.3L619.4 249.8M621.7 252.8L619.4 249.8L623.1 250.5L621.4 251.0ZM632.9 249.8L619.4 243.8M621.9 246.3L619.4 243.8L622.9 244.0L621.4 244.7ZM632.2 243.5L620.0 235.6M622.1 238.4L620.0 235.6L623.4 236.3L621.8 236.8ZM629.4 521.8L622.9 507.2M623.1 511.0L622.9 507.2L625.6 509.9L623.8 509.4ZM630.1 514.5L622.1 500.0M622.7 504.0L622.1 500.0L625.2 502.6L623.3 502.2ZM630.3 448.7L622.0 435.5M622.7 439.2L622.0 435.5L625.0 437.8L623.2 437.5ZM631.2 440.1L621.0 429.7M622.4 432.9L621.0 429.7L624.2 431.1L622.5 431.2ZM631.6 433.1L620.6 422.2M622.2 425.6L620.6 422.2L624.0 423.7L622.3 423.8ZM632.5 424.3L619.7 416.5M621.9 419.4L619.7 416.5L623.3 417.2L621.6 417.7ZM632.5 417.3L619.7 409.1M621.9 412.1L619.7 409.1L623.3 409.8L621.6 410.3ZM632.9 409.9L619.3 402.0M621.7 405.0L619.3 402.0L623.0 402.6L621.3 403.2ZM632.9 402.4L619.3 395.0M621.7 397.9L619.3 395.0L623.0 395.5L621.3 396.1ZM632.9 396.4L619.3 386.6M621.5 389.9L619.3 386.6L623.2 387.6L621.4 388.0ZM633.4 389.1L618.8 379.4M621.3 382.8L618.8 379.4L622.9 380.3L621.0 380.8ZM633.4 381.9L618.9 372.1M621.3 375.6L618.9 372.1L623.0 373.1L621.0 373.6ZM633.4 374.9L618.9 364.7M621.3 368.2L618.9 364.7L623.0 365.7L621.0 366.2ZM633.4 367.4L618.9 357.7M621.3 361.1L618.9 357.7L623.0 358.6L621.0 359.1ZM633.0 191.5L619.2 186.4M621.9 188.7L619.2 186.4L622.8 186.3L621.3 187.1ZM633.2 197.6L619.0 194.7M622.0 196.6L619.0 194.7L622.5 194.1L621.1 195.1ZM633.5 219.1L618.8 216.6M621.8 218.4L618.8 216.6L622.3 215.9L620.9 217.0ZM634.1 227.9L618.1 222.2M621.2 224.9L618.1 222.2L622.2 222.1L620.5 223.1ZM633.0 235.4L619.2 229.2M621.8 231.8L619.2 229.2L622.8 229.4L621.3 230.1ZM659.7 449.4L643.7 449.4M647.3 450.7L643.7 449.4L647.3 448.0L646.1 449.4ZM659.7 442.8L643.7 441.5M647.2 443.2L643.7 441.5L647.4 440.4L646.1 441.7ZM659.7 435.2L643.7 434.6M647.2 436.1L643.7 434.6L647.3 433.4L646.1 434.7ZM659.6 429.5L643.8 425.8M647.0 428.0L643.8 425.8L647.6 425.3L646.1 426.4ZM659.6 421.4L643.8 419.5M647.2 421.3L643.8 419.5L647.5 418.5L646.1 419.7ZM659.7 406.0L643.7 406.0M647.3 407.3L643.7 406.0L647.3 404.6L646.1 406.0ZM659.5 399.7L643.9 397.7M647.2 399.5L643.9 397.7L647.6 396.8L646.2 398.0ZM659.6 392.7L643.8 390.3M647.1 392.2L643.8 390.3L647.5 389.5L646.1 390.7ZM659.1 385.6L644.3 383.0M647.4 384.8L644.3 383.0L647.9 382.3L646.5 383.3ZM659.1 377.9L644.4 376.1M647.5 377.8L644.4 376.1L647.8 375.3L646.5 376.4ZM659.7 370.2L643.7 369.4M647.2 370.9L643.7 369.4L647.4 368.2L646.1 369.5ZM659.5 363.4L643.9 361.7M647.3 363.4L643.9 361.7L647.5 360.8L646.2 362.0ZM658.9 356.3L644.5 354.3M647.6 356.0L644.5 354.3L647.9 353.5L646.7 354.6ZM659.0 341.9L644.4 339.8M647.5 341.5L644.4 339.8L647.8 339.0L646.6 340.1ZM659.0 335.4L644.4 331.8M647.4 333.9L644.4 331.8L648.0 331.4L646.6 332.4ZM659.0 328.3L644.4 324.5M647.3 326.6L644.4 324.5L648.0 324.1L646.6 325.0ZM659.4 321.2L644.1 317.1M647.1 319.3L644.1 317.1L647.8 316.7L646.3 317.7ZM660.3 313.3L643.1 310.5M646.7 312.6L643.1 310.5L647.2 309.7L645.7 310.9ZM658.7 306.8L644.7 302.5M647.5 304.7L644.7 302.5L648.2 302.3L646.8 303.2ZM659.0 300.3L644.4 294.6M647.2 297.1L644.4 294.6L648.2 294.6L646.6 295.4ZM658.5 263.9L645.0 258.6M647.5 261.0L645.0 258.6L648.4 258.6L647.0 259.4ZM659.4 202.9L644.1 203.8M647.6 205.0L644.1 203.8L647.4 202.3L646.3 203.7ZM659.4 211.0L644.1 210.2M647.4 211.7L644.1 210.2L647.6 209.1L646.3 210.3ZM659.4 218.5L644.1 217.2M647.4 218.8L644.1 217.2L647.6 216.2L646.3 217.4ZM684.5 358.7L670.0 351.9M672.7 354.7L670.0 351.9L673.9 352.2L672.2 352.9ZM684.0 352.7L670.6 343.4M672.8 346.7L670.6 343.4L674.4 344.4L672.6 344.8ZM684.4 337.7L670.2 329.5M672.6 332.6L670.2 329.5L674.1 330.1L672.3 330.7ZM684.4 330.8L670.2 321.9M672.6 325.1L670.2 321.9L674.1 322.7L672.3 323.2ZM684.3 548.4L670.3 552.9M673.8 553.1L670.3 552.9L673.0 550.7L672.3 552.3ZM684.9 486.3L669.6 484.7M672.9 486.4L669.6 484.7L673.2 483.8L671.9 485.0ZM684.9 479.5L669.6 477.1M672.9 479.0L669.6 477.1L673.3 476.3L671.9 477.5ZM684.8 471.3L669.8 470.8M673.1 472.2L669.8 470.8L673.2 469.6L672.0 470.9ZM684.7 465.0L669.9 462.7M673.0 464.5L669.9 462.7L673.4 461.9L672.1 463.0ZM684.7 457.9L669.9 455.3M673.0 457.2L669.9 455.3L673.4 454.6L672.1 455.7ZM684.7 451.2L669.9 447.6M672.9 449.7L669.9 447.6L673.5 447.1L672.1 448.1ZM684.7 444.3L669.9 440.0M672.8 442.2L669.9 440.0L673.6 439.7L672.1 440.6ZM684.2 437.3L670.4 432.5M673.1 434.8L670.4 432.5L673.9 432.4L672.4 433.2ZM684.3 415.1L670.3 411.3M673.1 413.4L670.3 411.3L673.7 411.0L672.4 411.9ZM684.2 408.5L670.4 403.4M673.0 405.7L670.4 403.4L673.9 403.3L672.5 404.1ZM684.2 401.6L670.4 395.9M673.0 398.4L670.4 395.9L674.0 396.0L672.5 396.7ZM684.2 394.4L670.4 388.6M673.0 391.1L670.4 388.6L674.0 388.7L672.4 389.4ZM684.2 387.4L670.4 381.1M673.0 383.7L670.4 381.1L674.0 381.3L672.5 382.1ZM684.7 380.1L669.9 373.9M672.7 376.6L669.9 373.9L673.8 374.0L672.1 374.8ZM684.7 372.9L669.9 366.7M672.7 369.3L669.9 366.7L673.8 366.8L672.1 367.6ZM684.7 365.8L669.9 359.3M672.6 362.0L669.9 359.3L673.8 359.5L672.1 360.2ZM709.7 359.6L696.1 351.1M698.4 354.1L696.1 351.1L699.9 351.8L698.1 352.3ZM709.5 351.7L696.2 344.4M698.6 347.2L696.2 344.4L699.8 344.9L698.2 345.5ZM710.6 344.6L695.2 337.1M698.0 340.1L695.2 337.1L699.3 337.4L697.5 338.2ZM710.6 337.7L695.2 329.5M697.9 332.7L695.2 329.5L699.3 330.0L697.5 330.7ZM710.6 330.8L695.2 321.9M697.8 325.2L695.2 321.9L699.4 322.6L697.5 323.2ZM709.7 488.7L696.1 482.4M698.6 485.0L696.1 482.4L699.7 482.6L698.1 483.3ZM709.7 481.5L696.1 475.1M698.6 477.7L696.1 475.1L699.7 475.4L698.1 476.1ZM709.8 473.5L696.0 468.7M698.7 471.0L696.0 468.7L699.5 468.6L698.0 469.4ZM709.5 452.4L696.3 446.4M698.7 448.9L696.3 446.4L699.7 446.6L698.2 447.3ZM709.2 409.5L696.6 402.4M698.8 405.1L696.6 402.4L700.0 402.9L698.4 403.5ZM709.3 402.3L696.5 395.2M698.7 397.9L696.5 395.2L700.0 395.7L698.4 396.2ZM709.3 395.6L696.5 387.4M698.6 390.3L696.5 387.4L700.0 388.1L698.4 388.6ZM709.3 388.2L696.5 380.3M698.7 383.2L696.5 380.3L700.0 381.0L698.4 381.5ZM709.8 381.1L696.0 372.9M698.4 376.0L696.0 372.9L699.8 373.6L698.0 374.2ZM709.7 373.9L696.0 365.7M698.4 368.7L696.0 365.7L699.8 366.3L698.1 366.9ZM709.7 366.8L696.0 358.3M698.3 361.4L696.0 358.3L699.8 359.0L698.1 359.5ZM735.0 358.4L721.9 352.3M724.3 354.8L721.9 352.3L725.4 352.5L723.8 353.2ZM735.1 350.9L721.8 345.2M724.3 347.7L721.8 345.2L725.3 345.4L723.8 346.1ZM735.7 344.2L721.2 337.4M723.9 340.2L721.2 337.4L725.1 337.7L723.4 338.5ZM736.8 329.3L720.2 323.5M723.4 326.2L720.2 323.5L724.4 323.4L722.6 324.3ZM736.8 307.8L720.2 301.6M723.3 304.4L720.2 301.6L724.4 301.5L722.6 302.5ZM760.7 358.1L747.4 352.5M749.9 354.9L747.4 352.5L750.8 352.6L749.4 353.3ZM760.8 350.8L747.3 345.3M749.9 347.7L747.3 345.3L750.8 345.4L749.3 346.2ZM761.2 345.2L746.9 336.5M749.3 339.7L746.9 336.5L750.8 337.2L749.0 337.8ZM761.7 334.8L746.4 332.4M749.6 334.3L746.4 332.4L750.0 331.6L748.7 332.8ZM762.8 326.3L745.3 326.4M749.2 327.9L745.3 326.4L749.2 324.9L747.9 326.4ZM761.1 320.9L747.0 317.4M749.9 319.4L747.0 317.4L750.5 316.9L749.1 317.9ZM761.1 313.4L747.0 310.4M749.9 312.3L747.0 310.4L750.4 309.8L749.1 310.8ZM761.0 306.8L747.1 302.5M749.9 304.7L747.1 302.5L750.6 302.3L749.2 303.2ZM760.9 299.7L747.2 295.2M749.9 297.4L747.2 295.2L750.6 295.0L749.2 295.8ZM761.7 291.8L746.4 288.6M749.5 290.6L746.4 288.6L750.1 288.0L748.7 289.1ZM761.7 284.7L746.4 281.2M749.5 283.3L746.4 281.2L750.1 280.7L748.7 281.7ZM761.7 277.8L746.4 273.6M749.5 275.9L746.4 273.6L750.2 273.3L748.7 274.3ZM762.5 270.9L745.6 266.1M749.0 268.6L745.6 266.1L749.8 265.7L748.1 266.8ZM760.7 365.5L747.4 359.6M749.9 362.0L747.4 359.6L750.9 359.8L749.4 360.5ZM761.8 128.9L746.2 118.7M748.9 122.3L746.2 118.7L750.6 119.6L748.6 120.2ZM786.8 356.7L772.5 353.9M775.4 355.8L772.5 353.9L775.9 353.3L774.6 354.3ZM787.1 348.8L772.2 347.4M775.4 349.0L772.2 347.4L775.6 346.4L774.4 347.6ZM787.1 341.9L772.2 339.8M775.3 341.5L772.2 339.8L775.7 339.0L774.4 340.1ZM787.1 334.2L772.2 333.0M775.4 334.6L772.2 333.0L775.6 332.0L774.4 333.2ZM787.4 326.9L771.9 325.8M775.3 327.4L771.9 325.8L775.4 324.7L774.2 326.0ZM787.8 312.7L771.4 311.1M774.9 312.9L771.4 311.1L775.2 310.0L773.9 311.3ZM786.4 394.6L772.8 388.4M775.3 390.9L772.8 388.4L776.4 388.6L774.8 389.3ZM786.4 387.4L772.8 381.1M775.3 383.7L772.8 381.1L776.4 381.4L774.8 382.1ZM786.6 379.3L772.7 374.8M775.4 377.0L772.7 374.8L776.2 374.6L774.7 375.4ZM786.5 372.7L772.7 366.9M775.3 369.4L772.7 366.9L776.3 367.0L774.8 367.7ZM787.7 365.2L771.6 359.9M774.7 362.5L771.6 359.9L775.6 359.7L774.0 360.7ZM786.9 126.6L772.3 121.0M775.1 123.5L772.3 121.0L776.1 121.0L774.5 121.8ZM786.1 193.8L773.1 184.0M775.2 187.3L773.1 184.0L776.9 185.1L775.1 185.5ZM783.8 203.5L775.5 188.8M776.1 192.8L775.5 188.8L778.6 191.4L776.7 191.0ZM813.4 356.0L797.0 354.6M800.5 356.3L797.0 354.6L800.8 353.5L799.4 354.8ZM813.5 349.8L796.9 346.4M800.3 348.6L796.9 346.4L800.9 345.7L799.4 346.9ZM813.5 336.2L796.9 331.1M800.2 333.6L796.9 331.1L801.0 330.8L799.4 331.8ZM814.0 328.9L796.4 323.9M799.9 326.5L796.4 323.9L800.8 323.5L799.0 324.6ZM811.8 496.0L798.6 489.6M801.0 492.1L798.6 489.6L802.1 489.9L800.6 490.5ZM812.0 488.7L798.4 482.4M800.9 485.0L798.4 482.4L802.0 482.6L800.4 483.3ZM812.5 480.9L797.9 475.7M800.7 478.1L797.9 475.7L801.6 475.6L800.1 476.5ZM813.8 451.2L796.6 447.6M800.2 449.8L796.6 447.6L800.8 446.9L799.2 448.1ZM813.8 443.7L796.6 440.6M800.2 442.8L796.6 440.6L800.7 439.8L799.2 441.0ZM813.8 436.5L796.6 433.3M800.2 435.5L796.6 433.3L800.7 432.6L799.2 433.8ZM813.8 413.4L796.6 413.0M800.4 414.5L796.6 413.0L800.5 411.6L799.2 413.0ZM813.8 379.2L796.6 374.8M800.1 377.3L796.6 374.8L800.9 374.3L799.2 375.5ZM813.8 371.9L796.6 367.6M800.1 370.1L796.6 367.6L800.8 367.1L799.2 368.3ZM813.8 364.4L796.6 360.7M800.1 363.0L796.6 360.7L800.8 360.0L799.2 361.2ZM814.2 130.6L796.2 131.5M800.3 132.8L796.2 131.5L800.2 129.7L798.9 131.4Z" stroke="#ff00ff" fill="none" stroke-width="1"/>
<path d="M379.8 470.7L360.8 471.4M365.1 472.9L360.8 471.4L365.0 469.6L363.6 471.3ZM380.7 464.9L359.8 462.7M364.3 465.0L359.8 462.7L364.7 461.4L363.0 463.1ZM380.6 459.0L360.0 454.2M364.2 457.1L360.0 454.2L365.0 453.5L363.0 454.9ZM381.2 450.3L359.3 448.4M364.1 450.7L359.3 448.4L364.4 447.0L362.6 448.7ZM405.4 471.2L386.4 470.9M390.6 472.6L386.4 470.9L390.7 469.3L389.2 471.0ZM406.6 466.1L385.1 461.6M389.5 464.4L385.1 461.6L390.3 460.7L388.3 462.2ZM407.4 456.6L384.4 456.6M389.5 458.6L384.4 456.6L389.5 454.6L387.8 456.6ZM430.4 481.6L412.5 475.1M416.0 478.1L412.5 475.1L417.1 475.0L415.2 476.0ZM432.4 466.2L410.5 461.5M415.0 464.4L410.5 461.5L415.8 460.7L413.8 462.2ZM432.4 438.0L410.5 431.8M414.9 435.1L410.5 431.8L416.0 431.3L413.8 432.7ZM430.0 222.3L412.9 213.4M416.0 216.9L412.9 213.4L417.5 213.9L415.4 214.7ZM455.4 454.2L438.7 444.5M441.6 448.1L438.7 444.5L443.3 445.3L441.2 446.0ZM455.9 446.1L438.2 438.2M441.5 441.5L438.2 438.2L442.9 438.5L440.8 439.4ZM456.5 440.5L437.6 429.3M440.9 433.4L437.6 429.3L442.8 430.2L440.4 431.0ZM457.3 410.2L436.7 401.7M440.6 405.4L436.7 401.7L442.1 401.8L439.8 403.0ZM457.3 396.4L436.8 386.6M440.5 390.6L436.8 386.6L442.2 387.0L439.8 388.0ZM481.1 432.2L464.1 423.1M467.1 426.6L464.1 423.1L468.7 423.7L466.6 424.5ZM481.5 424.2L463.7 416.7M467.1 419.9L463.7 416.7L468.4 416.8L466.4 417.8ZM481.6 417.1L463.6 409.3M467.0 412.6L463.6 409.3L468.3 409.5L466.3 410.5ZM482.2 410.2L463.0 401.7M466.6 405.3L463.0 401.7L468.1 402.0L465.9 403.0ZM482.1 403.2L463.1 394.3M466.6 397.9L463.1 394.3L468.1 394.6L465.9 395.6ZM481.0 396.3L464.3 386.7M467.2 390.3L464.3 386.7L468.8 387.4L466.8 388.1ZM482.4 389.9L462.8 378.6M466.3 382.8L462.8 378.6L468.2 379.5L465.8 380.3ZM481.2 381.9L464.0 372.2M467.1 375.8L464.0 372.2L468.7 372.9L466.6 373.6ZM506.2 397.0L490.3 386.0M492.9 389.8L490.3 386.0L494.8 387.1L492.6 387.7ZM507.0 389.5L489.4 379.0M492.4 382.9L489.4 379.0L494.2 379.9L492.0 380.6ZM507.0 382.3L489.4 371.7M492.4 375.6L489.4 371.7L494.2 372.6L492.0 373.3ZM507.7 374.9L488.7 364.7M492.1 368.6L488.7 364.7L493.8 365.3L491.5 366.2ZM508.5 367.7L487.9 357.4M491.6 361.5L487.9 357.4L493.4 357.9L491.0 358.9ZM507.7 361.4L488.7 349.2M491.9 353.6L488.7 349.2L494.0 350.3L491.5 351.0ZM533.5 337.0L514.1 330.3M517.8 333.4L514.1 330.3L519.0 330.1L517.0 331.3ZM534.3 319.1L513.3 319.1M518.0 320.9L513.3 319.1L518.0 317.3L516.4 319.1ZM534.0 407.3L513.6 404.6M518.0 407.0L513.6 404.6L518.4 403.5L516.7 405.0ZM533.2 386.6L514.4 381.9M518.2 384.6L514.4 381.9L519.0 381.4L517.2 382.6ZM534.6 372.0L513.0 367.6M517.5 370.4L513.0 367.6L518.2 366.7L516.2 368.2ZM533.4 356.2L514.2 354.5M518.3 356.5L514.2 354.5L518.6 353.2L517.0 354.7ZM560.5 383.5L538.2 385.0M543.3 386.6L538.2 385.0L543.1 382.8L541.5 384.8ZM558.2 366.8L540.6 358.3M543.8 361.7L540.6 358.3L545.3 358.7L543.2 359.5ZM557.8 360.2L540.9 350.4M543.9 354.1L540.9 350.4L545.6 351.2L543.4 351.9ZM558.6 352.7L540.2 343.4M543.5 347.1L540.2 343.4L545.1 343.9L542.9 344.8ZM559.4 344.2L539.4 337.4M543.3 340.7L539.4 337.4L544.4 337.2L542.4 338.5ZM558.6 337.3L540.2 329.9M543.6 333.1L540.2 329.9L544.9 330.0L542.9 331.0ZM582.8 361.5L567.1 349.2M569.6 353.3L567.1 349.2L571.7 350.6L569.4 351.0ZM583.2 353.7L566.7 342.5M569.4 346.4L566.7 342.5L571.4 343.6L569.2 344.1ZM584.0 347.1L565.9 334.6M568.9 338.9L565.9 334.6L571.1 335.8L568.6 336.4ZM584.8 339.7L565.2 327.6M568.5 332.0L565.2 327.6L570.6 328.6L568.1 329.4ZM609.5 344.5L591.6 337.2M595.0 340.4L591.6 337.2L596.2 337.3L594.3 338.3ZM609.4 338.7L591.7 328.5M594.8 332.3L591.7 328.5L596.5 329.3L594.3 330.0ZM609.4 331.2L591.7 321.5M594.8 325.2L591.7 321.5L596.5 322.2L594.3 323.0ZM610.8 159.5L590.3 160.4M595.0 162.0L590.3 160.4L594.8 158.4L593.4 160.3ZM609.5 229.9L591.6 220.3M594.8 224.0L591.6 220.3L596.4 220.9L594.2 221.7ZM609.5 237.4L591.6 227.3M594.7 231.1L591.6 227.3L596.5 228.0L594.2 228.8ZM633.7 354.1L618.6 342.1M620.9 346.1L618.6 342.1L623.0 343.5L620.8 343.9ZM635.2 329.7L617.1 323.0M620.6 326.1L617.1 323.0L621.7 323.0L619.8 324.0ZM685.7 345.5L668.8 336.2M671.8 339.7L668.8 336.2L673.4 336.8L671.4 337.6ZM686.5 323.1L668.1 315.1M671.5 318.5L668.1 315.1L672.9 315.4L670.9 316.3ZM686.8 315.3L667.8 308.5M671.5 311.7L667.8 308.5L672.6 308.4L670.6 309.5ZM687.1 308.7L667.5 300.6M671.2 304.1L667.5 300.6L672.6 300.7L670.4 301.8ZM687.1 300.9L667.5 294.0M671.3 297.2L667.5 294.0L672.5 293.9L670.4 295.0ZM687.1 292.8L667.5 287.6M671.4 290.5L667.5 287.6L672.3 287.1L670.4 288.4ZM687.1 286.3L667.5 279.6M671.3 282.8L667.5 279.6L672.5 279.5L670.4 280.6ZM687.1 280.2L667.5 271.3M671.1 275.0L667.5 271.3L672.6 271.6L670.4 272.6ZM687.1 272.3L667.5 264.7M671.2 268.1L667.5 264.7L672.5 264.7L670.4 265.8ZM688.3 248.8L666.2 244.7M670.8 247.6L666.2 244.7L671.5 243.8L669.5 245.4ZM687.4 126.6L667.2 121.0M671.2 124.0L667.2 121.0L672.2 120.5L670.2 121.8ZM687.4 156.5L667.2 148.9M671.1 152.4L667.2 148.9L672.4 148.9L670.2 150.1ZM688.2 163.8L666.4 156.1M670.6 159.7L666.4 156.1L671.9 156.0L669.6 157.3ZM687.4 184.6L667.2 178.8M671.2 181.8L667.2 178.8L672.2 178.4L670.2 179.7ZM687.4 201.5L667.2 190.8M670.8 194.9L667.2 190.8L672.6 191.5L670.2 192.4ZM711.7 323.1L694.1 315.1M697.3 318.4L694.1 315.1L698.7 315.4L696.7 316.3ZM711.3 316.6L694.5 307.2M697.4 310.7L694.5 307.2L699.0 307.9L697.0 308.6ZM711.7 308.7L694.1 300.6M697.3 303.9L694.1 300.6L698.7 300.9L696.7 301.8ZM712.6 301.3L693.1 293.6M696.8 297.0L693.1 293.6L698.2 293.6L696.0 294.7ZM712.6 293.8L693.1 286.6M696.9 289.9L693.1 286.6L698.1 286.6L696.0 287.7ZM712.6 287.3L693.1 278.7M696.8 282.3L693.1 278.7L698.2 278.9L696.0 280.0ZM712.6 272.3L693.1 264.7M696.8 268.1L693.1 264.7L698.1 264.7L696.0 265.8ZM737.2 337.8L719.7 329.5M722.9 332.8L719.7 329.5L724.4 329.8L722.3 330.7ZM738.1 319.2L718.8 319.0M723.1 320.7L718.8 319.0L723.2 317.4L721.7 319.1ZM737.6 315.0L719.3 308.8M722.9 311.8L719.3 308.8L723.9 308.6L722.0 309.8ZM737.7 300.3L719.3 294.5M722.9 297.4L719.3 294.5L723.9 294.3L722.0 295.4ZM737.7 292.8L719.2 287.6M722.9 290.3L719.2 287.6L723.8 287.1L721.9 288.3ZM737.8 285.4L719.1 280.6M722.9 283.2L719.1 280.6L723.7 280.0L721.9 281.3ZM738.0 276.9L718.9 274.6M723.0 276.7L718.9 274.6L723.4 273.4L721.7 274.9ZM738.3 270.3L718.6 266.7M722.7 269.2L718.6 266.7L723.3 265.8L721.5 267.2ZM738.8 261.9L718.1 260.7M722.7 262.7L718.1 260.7L722.9 259.2L721.2 260.8ZM738.3 254.4L718.6 253.7M723.0 255.5L718.6 253.7L723.1 252.1L721.5 253.8ZM738.0 238.4L718.9 240.8M723.4 241.9L718.9 240.8L723.0 238.6L721.7 240.4ZM738.2 127.4L718.8 120.2M722.5 123.5L718.8 120.2L723.7 120.2L721.6 121.3ZM738.5 133.9L718.4 128.2M722.4 131.2L718.4 128.2L723.4 127.7L721.4 129.0ZM738.5 141.6L718.4 135.0M722.4 138.2L718.4 135.0L723.5 134.7L721.4 135.9ZM738.5 148.1L718.4 142.9M722.5 145.8L718.4 142.9L723.4 142.4L721.4 143.7ZM738.5 155.4L718.4 150.1M722.5 153.0L718.4 150.1L723.4 149.6L721.4 150.9ZM738.5 185.9L718.4 177.4M722.2 181.1L718.4 177.4L723.7 177.6L721.4 178.7ZM738.5 233.5L718.4 231.2M722.7 233.4L718.4 231.2L723.1 230.0L721.4 231.5ZM763.5 263.4L744.6 259.1M748.5 261.7L744.6 259.1L749.2 258.5L747.4 259.8ZM763.7 254.8L744.4 253.2M748.6 255.2L744.4 253.2L748.9 251.9L747.3 253.5ZM763.7 248.2L744.4 245.3M748.5 247.6L744.4 245.3L749.0 244.3L747.3 245.8ZM763.7 242.9L744.4 236.2M748.1 239.4L744.4 236.2L749.3 236.0L747.3 237.2ZM763.9 133.9L744.2 128.2M748.1 131.1L744.2 128.2L749.1 127.8L747.1 129.0ZM764.6 148.1L743.4 142.9M747.7 145.9L743.4 142.9L748.6 142.3L746.6 143.7ZM763.9 228.3L744.2 221.9M748.1 225.0L744.2 221.9L749.2 221.6L747.1 222.8ZM789.3 318.8L770.0 319.4M774.4 321.0L770.0 319.4L774.2 317.6L772.9 319.4ZM789.2 305.9L770.0 303.5M774.1 305.7L770.0 303.5L774.5 302.4L772.9 303.8ZM788.5 301.3L770.8 293.5M774.1 296.8L770.8 293.5L775.4 293.8L773.4 294.7ZM790.2 292.8L769.1 287.6M773.3 290.6L769.1 287.6L774.2 287.0L772.2 288.4ZM782.7 292.3L776.6 273.6M776.3 278.3L776.6 273.6L779.5 277.3L777.5 276.4ZM787.8 274.2L771.4 262.8M774.1 266.7L771.4 262.8L776.1 263.9L773.9 264.5ZM788.3 259.3L770.9 248.8M773.9 252.6L770.9 248.8L775.7 249.6L773.5 250.4ZM784.1 139.6L775.1 122.5M775.7 127.1L775.1 122.5L778.6 125.5L776.5 125.0ZM782.5 149.9L776.7 126.7M776.0 132.4L776.7 126.7L780.0 131.4L777.6 130.1ZM786.9 159.6L772.3 145.8M774.4 150.2L772.3 145.8L776.8 147.7L774.5 147.9ZM788.9 210.9L770.3 195.9M773.2 200.8L770.3 195.9L775.8 197.6L773.1 198.1ZM814.5 343.4L795.9 338.3M799.6 341.0L795.9 338.3L800.5 337.8L798.7 339.0ZM814.7 320.8L795.7 317.4M799.7 319.8L795.7 317.4L800.3 316.6L798.5 317.9ZM815.1 313.9L795.3 309.9M799.4 312.5L795.3 309.9L800.1 309.1L798.3 310.5ZM815.1 306.8L795.3 302.5M799.4 305.2L795.3 302.5L800.1 301.8L798.3 303.2ZM815.1 300.3L795.3 294.6M799.3 297.6L795.3 294.6L800.2 294.2L798.3 295.4ZM815.1 291.8L795.3 288.6M799.5 291.0L795.3 288.6L800.0 287.6L798.3 289.1ZM814.9 268.4L795.6 268.6M799.9 270.2L795.6 268.6L799.9 266.9L798.4 268.6ZM814.7 430.2L795.7 425.1M799.5 427.9L795.7 425.1L800.4 424.6L798.5 425.9ZM814.7 423.0L795.7 417.9M799.5 420.7L795.7 417.9L800.4 417.4L798.5 418.6ZM815.8 408.3L794.6 403.6M799.0 406.5L794.6 403.6L799.8 402.8L797.8 404.3ZM815.8 401.3L794.6 396.2M798.9 399.1L794.6 396.2L799.8 395.5L797.8 396.9ZM816.6 394.3L793.8 388.6M798.4 391.9L793.8 388.6L799.4 388.0L797.2 389.5ZM814.7 386.6L795.7 381.9M799.6 384.6L795.7 381.9L800.4 381.3L798.5 382.6ZM815.1 126.6L795.3 121.0M799.3 124.0L795.3 121.0L800.2 120.6L798.3 121.8ZM815.1 140.0L795.3 136.5M799.4 139.0L795.3 136.5L800.0 135.6L798.3 137.0ZM815.1 163.4L795.3 156.5M799.1 159.8L795.3 156.5L800.3 156.3L798.3 157.5ZM815.1 203.5L795.3 203.3M799.7 205.0L795.3 203.3L799.8 201.6L798.3 203.3ZM813.9 223.4L796.6 212.3M799.5 216.3L796.6 212.3L801.4 213.3L799.1 214.0Z" stroke="#ff0000" fill="none" stroke-width="1"/>
<path d="M383.2 442.1L357.4 442.1M363.7 444.7L357.4 442.1L363.7 439.6L361.6 442.1ZM383.2 434.9L357.4 434.9M363.7 437.5L357.4 434.9L363.7 432.3L361.6 434.9ZM383.6 427.0L357.0 428.4M363.7 430.7L357.0 428.4L363.4 425.4L361.4 428.1ZM384.3 418.3L356.2 422.5M363.6 424.3L356.2 422.5L362.7 418.7L360.9 421.8ZM385.5 411.3L355.1 415.1M362.9 417.2L355.1 415.1L362.2 411.1L360.1 414.5ZM385.6 403.8L354.9 408.1M362.9 410.1L354.9 408.1L362.1 404.0L360.0 407.4ZM385.2 395.8L355.4 401.6M363.3 403.1L355.4 401.6L362.2 397.2L360.3 400.7ZM385.1 389.4L355.4 393.6M363.2 395.5L355.4 393.6L362.3 389.6L360.3 392.9ZM385.3 379.7L355.3 388.8M363.6 389.6L355.3 388.8L361.7 383.6L360.2 387.3ZM385.3 372.2L355.3 381.9M363.6 382.5L355.3 381.9L361.7 376.5L360.2 380.3ZM385.3 365.2L355.3 374.4M363.6 375.1L355.3 374.4L361.7 369.1L360.2 372.9ZM385.3 357.7L355.3 367.4M363.6 368.0L355.3 367.4L361.7 362.1L360.2 365.8ZM384.1 349.5L356.5 361.2M364.4 361.0L356.5 361.2L362.1 355.6L361.0 359.3ZM386.1 342.5L354.5 353.7M363.4 354.1L354.5 353.7L361.2 347.8L359.7 351.9ZM387.3 335.0L353.3 346.7M362.8 347.2L353.3 346.7L360.5 340.4L358.9 344.8ZM386.7 328.3L353.9 338.9M363.0 339.6L353.9 338.9L360.9 333.1L359.3 337.2ZM386.8 321.3L353.8 331.4M362.9 332.2L353.8 331.4L360.9 325.7L359.2 329.8ZM387.2 314.6L353.4 323.7M362.6 324.8L353.4 323.7L360.8 318.1L358.9 322.2ZM387.5 307.6L353.1 316.2M362.4 317.5L353.1 316.2L360.7 310.7L358.7 314.8ZM387.9 300.9L352.7 308.4M362.1 310.1L352.7 308.4L360.6 303.1L358.5 307.2ZM387.4 295.0L353.2 299.8M362.1 302.0L353.2 299.8L361.1 295.3L358.8 299.0ZM388.3 286.9L352.2 293.5M361.8 295.5L352.2 293.5L360.5 288.3L358.2 292.4ZM389.3 279.3L351.2 286.7M361.3 288.6L351.2 286.7L359.9 281.1L357.5 285.5ZM389.3 272.6L351.2 278.8M361.2 281.1L351.2 278.8L360.0 273.5L357.5 277.8ZM390.3 264.5L350.3 272.5M360.9 274.5L350.3 272.5L359.3 266.6L356.9 271.2ZM391.3 257.4L349.3 265.2M360.4 267.4L349.3 265.2L358.8 259.1L356.2 263.9ZM388.4 251.9L352.2 256.2M361.5 258.7L352.2 256.2L360.7 251.5L358.2 255.5ZM390.3 245.0L350.3 248.5M360.5 251.7L350.3 248.5L359.8 243.7L356.8 248.0ZM389.3 239.4L351.3 239.8M360.7 243.4L351.3 239.8L360.6 235.9L357.5 239.7ZM385.4 166.8L355.2 153.1M361.2 159.5L355.2 153.1L364.0 153.5L360.1 155.4ZM382.3 167.8L358.3 166.6M364.1 169.3L358.3 166.6L364.3 164.5L362.2 166.8ZM386.6 180.5L354.0 168.3M360.8 174.6L354.0 168.3L363.2 168.1L359.3 170.3ZM390.5 189.2L350.1 174.2M358.5 181.9L350.1 174.2L361.5 173.9L356.7 176.6ZM390.5 194.6L350.1 183.2M358.9 190.0L350.1 183.2L361.1 182.0L356.7 185.1ZM390.5 200.6L350.1 191.7M359.1 197.9L350.1 191.7L360.9 189.9L356.7 193.2ZM387.8 208.6L352.8 198.2M360.4 204.2L352.8 198.2L362.4 197.3L358.6 199.9ZM390.5 211.7L350.1 209.6M359.8 214.1L350.1 209.6L360.2 206.1L356.7 209.9ZM392.0 217.5L348.6 218.2M359.3 222.3L348.6 218.2L359.2 213.7L355.7 218.1ZM391.2 224.0L349.4 226.2M359.9 229.8L349.4 226.2L359.4 221.5L356.2 225.8ZM390.4 233.5L350.2 231.2M359.8 235.7L350.2 231.2L360.3 227.7L356.8 231.6ZM409.4 449.4L382.4 449.4M389.0 452.1L382.4 449.4L389.0 446.7L386.8 449.4ZM408.8 440.8L382.9 443.5M389.6 445.4L382.9 443.5L389.0 440.3L387.2 443.0ZM408.1 434.9L383.6 434.9M389.6 437.3L383.6 434.9L389.6 432.5L387.7 434.9ZM409.9 429.6L381.8 425.7M388.3 429.5L381.8 425.7L389.1 423.9L386.4 426.3ZM409.9 421.9L381.8 419.0M388.4 422.5L381.8 419.0L389.0 416.9L386.4 419.4ZM409.6 413.7L382.2 412.7M388.8 415.7L382.2 412.7L389.0 410.2L386.7 412.9ZM409.5 406.9L382.2 405.0M388.7 408.2L382.2 405.0L389.1 402.8L386.7 405.3ZM409.6 398.7L382.2 398.7M388.9 401.4L382.2 398.7L388.9 396.0L386.7 398.7ZM409.6 391.0L382.2 392.0M389.0 394.5L382.2 392.0L388.8 389.0L386.7 391.8ZM410.4 384.3L381.4 384.3M388.5 387.1L381.4 384.3L388.5 381.4L386.1 384.3ZM410.4 376.3L381.4 377.8M388.7 380.3L381.4 377.8L388.4 374.5L386.2 377.5ZM410.8 368.6L380.9 371.0M388.5 373.4L380.9 371.0L388.0 367.4L385.8 370.6ZM412.0 360.4L379.7 364.7M388.1 366.8L379.7 364.7L387.2 360.4L385.0 364.0ZM412.5 353.4L379.2 357.3M387.8 359.6L379.2 357.3L387.0 353.0L384.7 356.6ZM413.2 346.6L378.5 349.6M387.4 352.3L378.5 349.6L386.8 345.4L384.2 349.1ZM413.2 339.6L378.5 342.1M387.3 344.9L378.5 342.1L386.8 338.0L384.2 341.7ZM413.2 332.2L378.5 335.0M387.3 337.7L378.5 335.0L386.8 330.9L384.2 334.5ZM413.2 325.0L378.5 327.8M387.3 330.5L378.5 327.8L386.8 323.6L384.2 327.3ZM413.4 318.7L378.4 319.6M387.1 322.8L378.4 319.6L386.9 315.9L384.1 319.4ZM413.4 311.9L378.4 311.9M387.0 315.4L378.4 311.9L387.0 308.4L384.1 311.9ZM413.4 305.0L378.4 304.4M386.9 308.0L378.4 304.4L387.0 301.0L384.1 304.5ZM413.8 296.2L377.9 298.7M387.0 301.6L377.9 298.7L386.5 294.5L383.8 298.3ZM413.8 288.9L377.9 291.5M387.0 294.4L377.9 291.5L386.5 287.3L383.8 291.0ZM413.8 281.7L377.9 284.2M387.0 287.2L377.9 284.2L386.5 280.0L383.8 283.8ZM413.9 275.1L377.9 276.4M386.9 279.6L377.9 276.4L386.6 272.5L383.8 276.2ZM413.9 267.9L377.9 269.1M386.9 272.4L377.9 269.1L386.6 265.2L383.8 268.9ZM413.9 260.6L377.9 261.9M386.9 265.2L377.9 261.9L386.6 258.0L383.8 261.7ZM414.1 253.1L377.7 255.0M386.8 258.1L377.7 255.0L386.4 250.9L383.6 254.7ZM414.1 245.8L377.7 247.7M386.8 250.9L377.7 247.7L386.4 243.7L383.6 247.4ZM414.1 238.6L377.7 240.5M386.8 243.7L377.7 240.5L386.4 236.4L383.6 240.2ZM411.6 181.3L380.2 167.6M386.5 174.1L380.2 167.6L389.2 167.8L385.3 169.8ZM411.6 189.2L380.2 174.2M386.4 181.0L380.2 174.2L389.4 174.7L385.3 176.6ZM411.6 196.6L380.2 181.2M386.4 188.1L380.2 181.2L389.4 181.9L385.3 183.7ZM415.9 198.2L375.9 194.1M385.3 199.1L375.9 194.1L386.1 191.1L382.4 194.8ZM412.0 207.6L379.8 199.2M386.8 204.4L379.8 199.2L388.5 198.0L385.1 200.5ZM417.8 217.0L373.9 204.3M383.4 211.7L373.9 204.3L386.0 203.0L381.1 206.4ZM418.3 215.8L373.4 219.9M384.9 223.3L373.4 219.9L384.1 214.4L380.8 219.2ZM419.1 222.0L372.7 228.2M384.7 231.3L372.7 228.2L383.4 222.1L380.3 227.2ZM416.8 230.8L375.0 233.8M385.6 237.2L375.0 233.8L385.0 228.9L381.9 233.3ZM412.1 132.4L379.7 115.2M385.9 122.6L379.7 115.2L389.3 116.2L385.0 118.0ZM433.5 459.7L409.5 453.5M414.7 457.4L409.5 453.5L416.0 452.6L413.4 454.5ZM433.5 452.5L409.5 446.3M414.7 450.2L409.5 446.3L416.0 445.4L413.4 447.3ZM433.5 444.9L409.4 439.4M414.8 443.1L409.4 439.4L415.9 438.3L413.4 440.3ZM433.5 430.8L409.5 424.6M414.7 428.5L409.5 424.6L416.0 423.7L413.4 425.6ZM434.7 423.3L408.2 417.5M414.1 421.6L408.2 417.5L415.3 416.3L412.5 418.5ZM434.7 415.8L408.2 410.6M414.2 414.5L408.2 410.6L415.2 409.3L412.6 411.5ZM435.5 408.1L407.4 403.9M413.9 407.7L407.4 403.9L414.7 402.1L412.0 404.6ZM434.8 400.8L408.1 396.6M414.3 400.3L408.1 396.6L415.1 395.0L412.5 397.3ZM433.6 391.7L409.4 391.3M415.3 393.8L409.4 391.3L415.3 389.0L413.3 391.3ZM435.5 385.5L407.4 383.0M414.1 386.4L407.4 383.0L414.6 380.8L412.0 383.4ZM434.5 376.6L408.5 377.5M414.9 379.8L408.5 377.5L414.8 374.7L412.7 377.3ZM435.5 369.8L407.5 369.8M414.3 372.6L407.5 369.8L414.3 367.0L412.1 369.8ZM436.3 361.4L406.6 363.7M414.1 366.1L406.6 363.7L413.7 360.2L411.5 363.3ZM437.4 355.9L405.5 354.8M413.2 358.2L405.5 354.8L413.4 351.9L410.7 354.9ZM437.9 349.2L405.0 346.9M412.9 350.8L405.0 346.9L413.3 344.2L410.4 347.3ZM438.2 341.9L404.7 339.8M412.7 343.6L404.7 339.8L413.2 337.0L410.2 340.1ZM438.2 334.8L404.7 332.4M412.7 336.3L404.7 332.4L413.2 329.7L410.2 332.8ZM438.2 327.4L404.7 325.3M412.7 329.2L404.7 325.3L413.2 322.5L410.2 325.7ZM438.2 320.0L404.7 318.3M412.8 322.0L404.7 318.3L413.1 315.4L410.2 318.6ZM437.8 314.1L405.1 309.7M412.7 314.0L405.1 309.7L413.6 307.5L410.5 310.4ZM437.5 306.9L405.4 302.4M412.9 306.7L405.4 302.4L413.7 300.3L410.7 303.2ZM436.5 299.8L406.4 295.1M413.4 299.2L406.4 295.1L414.3 293.2L411.4 295.8ZM437.5 293.3L405.5 287.1M412.7 291.8L405.5 287.1L413.9 285.4L410.7 288.1ZM436.5 285.6L406.4 280.3M413.3 284.6L406.4 280.3L414.3 278.6L411.4 281.2ZM438.9 278.5L404.0 273.0M412.0 277.8L404.0 273.0L413.1 270.9L409.7 273.9ZM440.4 270.5L402.6 266.5M411.5 271.2L402.6 266.5L412.2 263.7L408.8 267.2ZM440.4 262.3L402.5 260.3M411.6 264.5L402.5 260.3L412.0 257.0L408.8 260.6ZM441.3 254.7L401.6 253.3M411.2 257.6L401.6 253.3L411.5 249.7L408.1 253.6ZM441.4 246.4L401.6 247.1M411.4 250.9L401.6 247.1L411.3 243.0L408.1 247.0ZM440.4 240.2L402.5 238.9M411.7 243.0L402.5 238.9L412.0 235.5L408.7 239.1ZM436.4 145.4L406.5 131.1M412.4 137.6L406.5 131.1L415.3 131.7L411.4 133.5ZM436.4 152.0L406.5 139.0M412.5 145.1L406.5 139.0L415.1 139.2L411.4 141.1ZM435.4 157.4L407.5 148.1M413.4 153.1L407.5 148.1L415.3 147.6L412.1 149.6ZM435.5 163.8L407.5 156.2M413.6 160.8L407.5 156.2L415.1 155.3L412.1 157.4ZM435.7 209.6L407.3 197.2M413.0 203.0L407.3 197.2L415.5 197.4L411.9 199.2ZM436.8 215.2L406.1 206.0M412.7 211.3L406.1 206.0L414.6 205.2L411.1 207.5ZM447.4 215.8L395.5 234.3M410.1 234.9L395.5 234.3L406.4 224.6L404.1 231.3ZM443.3 231.7L399.6 232.9M410.5 236.9L399.6 232.9L410.2 228.3L406.8 232.7ZM458.1 432.5L435.9 422.8M440.4 427.4L435.9 422.8L442.4 423.0L439.6 424.4ZM458.5 424.4L435.6 416.5M440.4 420.7L435.6 416.5L442.0 416.1L439.3 417.8ZM458.1 418.0L435.9 408.4M440.4 412.9L435.9 408.4L442.4 408.5L439.6 410.0ZM458.5 402.8L435.5 394.7M440.4 398.9L435.5 394.7L442.0 394.4L439.3 396.0ZM458.8 389.2L435.3 379.3M440.1 384.1L435.3 379.3L442.1 379.4L439.2 380.9ZM459.7 381.5L434.4 372.6M439.7 377.3L434.4 372.6L441.5 372.2L438.6 374.0ZM461.6 373.4L432.5 366.2M438.9 370.8L432.5 366.2L440.4 365.0L437.3 367.3ZM462.4 364.4L431.7 360.7M438.8 364.6L431.7 360.7L439.6 358.5L436.7 361.3ZM462.5 356.7L431.6 354.0M438.9 357.7L431.6 354.0L439.5 351.6L436.7 354.4ZM461.6 350.9L432.5 345.3M439.1 349.5L432.5 345.3L440.2 343.8L437.3 346.2ZM462.4 344.1L431.6 337.6M438.6 342.2L431.6 337.6L439.9 336.1L436.7 338.6ZM461.8 338.4L432.3 328.8M438.6 334.1L432.3 328.8L440.5 328.2L437.1 330.4ZM461.8 331.2L432.3 321.6M438.6 326.9L432.3 321.6L440.5 321.0L437.1 323.2ZM460.8 322.6L433.3 315.7M439.4 320.1L433.3 315.7L440.7 314.7L437.8 316.8ZM461.9 316.4L432.2 307.4M438.6 312.5L432.2 307.4L440.4 306.7L437.1 308.9ZM460.6 308.3L433.5 301.0M439.4 305.5L433.5 301.0L440.9 300.1L438.0 302.2ZM461.1 300.9L433.0 293.9M439.2 298.4L433.0 293.9L440.6 292.9L437.6 295.1ZM460.9 294.4L433.2 286.0M439.1 290.8L433.2 286.0L440.8 285.3L437.7 287.4ZM463.6 288.9L430.5 277.1M437.4 283.3L430.5 277.1L439.8 276.7L435.9 279.0ZM464.8 281.8L429.3 269.6M436.8 276.1L429.3 269.6L439.2 269.1L435.1 271.6ZM464.0 273.4L430.1 263.6M437.4 269.4L430.1 263.6L439.4 262.6L435.7 265.2ZM464.0 265.4L430.1 257.1M437.6 262.5L430.1 257.1L439.2 255.8L435.7 258.5ZM462.8 258.4L431.2 249.6M438.1 254.9L431.2 249.6L439.9 248.7L436.4 251.1ZM461.7 172.3L432.4 162.1M438.6 167.5L432.4 162.1L440.6 161.7L437.2 163.8ZM461.9 181.1L432.2 167.8M438.2 174.0L432.2 167.8L440.8 168.1L437.1 170.0ZM460.5 187.9L433.6 175.4M438.9 181.2L433.6 175.4L441.4 175.8L438.0 177.5ZM460.5 194.7L433.6 183.2M439.0 188.7L433.6 183.2L441.3 183.3L438.0 185.1ZM470.8 230.3L423.3 234.3M435.4 238.0L423.3 234.3L434.6 228.6L431.1 233.7ZM484.6 353.7L460.6 342.5M465.4 347.6L460.6 342.5L467.6 342.8L464.6 344.3ZM485.0 346.2L460.2 335.5M465.3 340.6L460.2 335.5L467.4 335.7L464.3 337.3ZM486.2 339.5L459.0 327.8M464.5 333.3L459.0 327.8L466.9 327.9L463.5 329.7ZM487.0 332.1L458.3 320.7M464.2 326.3L458.3 320.7L466.4 320.6L463.0 322.6ZM488.2 324.2L457.1 314.1M463.7 319.7L457.1 314.1L465.7 313.5L462.2 315.7ZM487.8 316.0L457.5 307.8M464.1 312.8L457.5 307.8L465.7 306.8L462.5 309.1ZM489.0 309.4L456.3 300.0M463.4 305.5L456.3 300.0L465.2 299.0L461.7 301.5ZM489.7 301.8L455.5 293.1M463.1 298.6L455.5 293.1L464.8 291.8L461.1 294.5ZM489.4 297.1L455.9 283.3M462.7 290.0L455.9 283.3L465.5 283.4L461.4 285.6ZM489.3 289.6L455.9 276.3M462.8 282.9L455.9 276.3L465.4 276.3L461.4 278.5ZM488.5 281.8L456.8 269.6M463.3 275.8L456.8 269.6L465.8 269.5L462.0 271.6ZM488.6 274.4L456.7 262.6M463.3 268.7L456.7 262.6L465.7 262.3L461.9 264.6ZM489.3 266.6L455.9 256.0M463.1 261.9L455.9 256.0L465.2 255.3L461.4 257.7ZM489.3 259.9L455.9 248.2M463.0 254.4L455.9 248.2L465.3 247.7L461.4 250.1ZM489.4 253.3L455.9 240.3M462.8 246.8L455.9 240.3L465.4 240.2L461.4 242.4ZM489.4 247.4L455.9 231.7M462.5 238.9L455.9 231.7L465.7 232.3L461.4 234.3ZM483.2 375.6L462.1 363.9M466.1 368.9L462.1 363.9L468.4 364.7L465.5 365.9ZM484.0 366.9L461.3 358.2M466.0 362.6L461.3 358.2L467.7 358.1L465.0 359.6ZM484.3 359.9L461.0 350.8M465.8 355.3L461.0 350.8L467.6 350.7L464.8 352.3ZM488.6 180.1L456.6 168.8M463.3 174.7L456.6 168.8L465.6 168.4L461.9 170.6ZM489.8 240.7L455.5 223.9M462.2 231.5L455.5 223.9L465.6 224.6L461.1 226.7ZM508.6 354.1L487.8 342.0M491.7 347.1L487.8 342.0L494.1 342.9L491.2 344.0ZM509.3 346.2L487.1 335.5M491.5 340.3L487.1 335.5L493.6 335.9L490.8 337.3ZM509.7 339.5L486.7 327.8M491.2 332.9L486.7 327.8L493.5 328.3L490.5 329.7ZM511.6 331.3L484.8 321.5M490.4 326.6L484.8 321.5L492.3 321.2L489.2 323.1ZM510.1 325.0L486.3 313.3M491.0 318.5L486.3 313.3L493.3 313.8L490.2 315.2ZM511.3 318.0L485.2 305.8M490.4 311.4L485.2 305.8L492.8 306.2L489.4 307.8ZM511.6 311.2L484.8 298.2M490.1 304.0L484.8 298.2L492.7 298.7L489.2 300.3ZM511.3 304.2L485.1 290.7M490.2 296.6L485.1 290.7L492.9 291.4L489.4 292.9ZM511.6 296.3L484.8 284.1M490.2 289.8L484.8 284.1L492.6 284.4L489.2 286.1ZM512.0 289.6L484.4 276.3M489.9 282.3L484.4 276.3L492.5 276.8L488.9 278.5ZM513.2 282.2L483.2 269.2M489.3 275.4L483.2 269.2L491.9 269.4L488.1 271.4ZM512.4 274.4L484.0 262.6M489.8 268.3L484.0 262.6L492.1 262.7L488.6 264.6ZM512.0 266.6L484.4 256.0M490.1 261.3L484.4 256.0L492.2 255.8L488.9 257.7ZM512.8 258.8L483.6 249.3M489.8 254.5L483.6 249.3L491.7 248.7L488.4 250.8ZM511.6 253.3L484.8 240.3M490.1 246.2L484.8 240.3L492.7 240.8L489.2 242.4ZM512.5 245.6L483.9 233.5M489.7 239.3L483.9 233.5L492.2 233.6L488.6 235.5ZM510.4 174.2L486.0 160.2M490.6 166.0L486.0 160.2L493.4 161.2L490.0 162.5ZM509.2 180.5L487.2 168.3M491.4 173.5L487.2 168.3L493.8 169.1L490.8 170.3ZM510.0 187.9L486.4 175.4M491.0 180.8L486.4 175.4L493.5 176.1L490.3 177.5ZM511.2 193.5L485.2 184.4M490.7 189.2L485.2 184.4L492.5 184.0L489.5 185.9ZM512.5 239.9L483.9 224.7M489.4 231.3L483.9 224.7L492.4 225.6L488.6 227.2ZM535.4 351.9L512.1 344.3M517.1 348.5L512.1 344.3L518.6 343.8L516.0 345.5ZM535.3 345.0L512.3 336.7M517.1 341.0L512.3 336.7L518.8 336.4L516.1 338.0ZM536.3 326.8L511.3 325.9M517.4 328.6L511.3 325.9L517.5 323.7L515.4 326.1ZM538.6 313.7L509.0 310.1M515.9 313.9L509.0 310.1L516.6 308.0L513.8 310.7ZM537.5 310.1L510.1 299.3M515.8 304.6L510.1 299.3L517.9 299.2L514.6 301.1ZM536.0 303.7L511.6 291.2M516.3 296.7L511.6 291.2L518.8 291.8L515.6 293.3ZM538.3 297.1L509.2 283.3M515.0 289.6L509.2 283.3L517.8 283.8L514.0 285.6ZM538.7 287.6L508.9 278.3M515.3 283.5L508.9 278.3L517.1 277.6L513.8 279.8ZM538.3 282.2L509.3 269.3M515.1 275.3L509.3 269.3L517.7 269.6L514.0 271.4ZM538.7 272.0L508.9 265.0M515.5 269.7L508.9 265.0L516.9 263.7L513.8 266.1ZM538.7 262.6L508.8 260.0M515.9 263.6L508.8 260.0L516.5 257.6L513.8 260.4ZM538.7 257.6L508.9 250.5M515.5 255.2L508.9 250.5L516.9 249.3L513.8 251.7ZM536.7 250.9L510.8 242.7M516.4 247.3L510.8 242.7L518.0 242.1L515.1 244.0ZM536.9 242.8L510.7 236.3M516.5 240.5L510.7 236.3L517.8 235.3L515.0 237.4ZM536.7 125.8L510.9 121.8M516.8 125.3L510.9 121.8L517.6 120.2L515.1 122.4ZM536.0 187.3L511.6 176.1M516.5 181.3L511.6 176.1L518.7 176.4L515.6 177.9ZM537.1 193.4L510.5 184.4M516.1 189.3L510.5 184.4L517.9 184.0L514.8 185.9ZM536.3 200.9L511.2 191.4M516.5 196.2L511.2 191.4L518.4 191.2L515.4 193.0ZM535.6 209.4L512.0 197.4M516.6 202.7L512.0 197.4L519.0 198.0L515.9 199.4ZM536.3 215.9L511.2 205.4M516.4 210.4L511.2 205.4L518.5 205.4L515.4 207.1ZM537.1 222.4L510.5 213.3M516.1 218.2L510.5 213.3L517.9 212.9L514.8 214.8ZM537.1 228.9L510.5 221.3M516.3 225.8L510.5 221.3L517.8 220.5L514.8 222.5ZM536.6 236.4L510.9 228.2M516.4 232.8L510.9 228.2L518.1 227.7L515.2 229.6ZM560.2 331.6L538.5 321.1M542.8 325.9L538.5 321.1L544.9 321.6L542.1 322.8ZM560.5 323.9L538.3 314.4M542.8 318.9L538.3 314.4L544.7 314.5L541.9 316.0ZM560.9 317.2L537.8 306.6M542.4 311.5L537.8 306.6L544.5 306.9L541.6 308.3ZM560.9 310.7L537.8 298.6M542.3 303.9L537.8 298.6L544.7 299.3L541.6 300.6ZM560.1 303.0L538.6 291.9M542.8 296.8L538.6 291.9L545.0 292.5L542.1 293.7ZM561.7 295.9L537.0 284.5M542.0 289.7L537.0 284.5L544.2 284.8L541.1 286.4ZM560.3 288.1L538.5 277.8M542.8 282.5L538.5 277.8L544.8 278.2L542.1 279.5ZM561.3 281.4L537.4 270.0M542.2 275.2L537.4 270.0L544.4 270.5L541.3 271.9ZM562.1 274.3L536.7 262.6M541.7 268.0L536.7 262.6L544.1 263.0L540.8 264.6ZM561.3 266.6L537.4 255.9M542.2 260.9L537.4 255.9L544.3 256.2L541.3 257.7ZM561.7 258.7L537.0 249.3M542.2 254.1L537.0 249.3L544.0 249.2L541.1 250.9ZM560.5 251.7L538.2 241.9M542.7 246.5L538.2 241.9L544.7 242.1L541.9 243.5ZM560.3 244.7L538.5 234.4M542.8 239.1L538.5 234.4L544.9 234.8L542.1 236.1ZM561.4 123.8L537.3 123.8M543.2 126.2L537.3 123.8L543.2 121.4L541.3 123.8ZM561.7 130.7L537.1 131.4M543.2 133.6L537.1 131.4L543.1 128.8L541.1 131.2ZM561.7 137.6L537.1 138.9M543.3 141.0L537.1 138.9L543.0 136.2L541.1 138.7ZM563.6 156.1L535.1 149.4M541.5 153.9L535.1 149.4L542.8 148.2L539.8 150.5ZM563.2 161.8L535.6 158.1M542.0 161.8L535.6 158.1L542.7 156.3L540.1 158.7ZM561.0 170.5L537.8 163.9M542.8 167.8L537.8 163.9L544.1 163.2L541.6 165.0ZM560.7 178.7L538.1 170.2M542.8 174.5L538.1 170.2L544.5 170.0L541.8 171.6ZM560.8 185.6L538.0 177.8M542.8 181.9L538.0 177.8L544.4 177.4L541.7 179.0ZM560.8 192.8L538.0 185.0M542.8 189.2L538.0 185.0L544.3 184.7L541.7 186.3ZM560.2 201.4L538.5 190.9M542.8 195.6L538.5 190.9L544.9 191.3L542.1 192.6ZM560.4 208.1L538.3 198.6M542.8 203.2L538.3 198.6L544.7 198.8L541.9 200.2ZM562.3 217.1L536.4 204.1M541.5 209.9L536.4 204.1L544.1 204.7L540.7 206.2ZM560.3 223.4L538.4 212.3M542.7 217.2L538.4 212.3L544.9 212.9L542.0 214.1ZM560.8 229.9L538.0 220.3M542.6 224.9L538.0 220.3L544.5 220.4L541.7 221.9ZM560.5 236.9L538.2 227.8M542.8 232.2L538.2 227.8L544.6 227.8L541.9 229.3ZM586.3 332.2L563.6 320.6M568.0 325.7L563.6 320.6L570.3 321.2L567.3 322.5ZM586.3 324.7L563.6 313.6M568.1 318.6L563.6 313.6L570.3 314.1L567.3 315.4ZM585.7 317.3L564.2 306.5M568.4 311.3L564.2 306.5L570.6 307.0L567.7 308.3ZM585.7 310.2L564.2 299.2M568.4 304.0L564.2 299.2L570.6 299.7L567.8 301.0ZM585.5 303.2L564.4 291.7M568.4 296.6L564.4 291.7L570.7 292.4L567.9 293.6ZM585.0 296.8L564.9 283.6M568.5 288.9L564.9 283.6L571.1 284.8L568.2 285.8ZM587.1 289.6L562.8 276.3M567.5 282.0L562.8 276.3L570.1 277.2L566.8 278.5ZM587.9 270.3L562.0 266.7M568.0 270.1L562.0 266.7L568.7 265.0L566.3 267.3ZM591.0 263.2L558.9 259.3M566.4 263.4L558.9 259.3L567.2 257.1L564.2 259.9ZM586.3 259.3L563.6 248.8M568.1 253.6L563.6 248.8L570.2 249.1L567.3 250.5ZM588.1 121.0L561.8 126.6M568.8 127.8L561.8 126.6L567.7 122.6L566.1 125.7ZM587.2 133.8L562.8 128.3M568.2 132.1L562.8 128.3L569.3 127.2L566.8 129.2ZM590.8 136.5L559.1 140.1M567.3 142.3L559.1 140.1L566.5 136.0L564.3 139.5ZM587.7 145.5L562.2 145.5M568.5 148.0L562.2 145.5L568.5 143.0L566.4 145.5ZM589.7 167.2L560.3 167.2M567.5 170.1L560.3 167.2L567.5 164.3L565.1 167.2ZM588.5 181.2L561.4 167.7M566.7 173.7L561.4 167.7L569.4 168.3L565.9 169.9ZM587.4 185.3L562.5 178.0M567.9 182.3L562.5 178.0L569.3 177.3L566.6 179.2ZM586.9 191.8L563.0 186.0M568.3 189.8L563.0 186.0L569.4 185.0L566.9 186.9ZM586.5 200.3L563.4 192.0M568.3 196.3L563.4 192.0L569.9 191.7L567.2 193.3ZM585.4 209.4L564.5 197.4M568.5 202.4L564.5 197.4L570.8 198.3L567.9 199.4ZM573.4 202.3L576.6 233.4M578.9 225.4L576.6 233.4L572.7 226.1L576.0 228.3ZM593.2 233.2L556.7 216.9M564.1 224.6L556.7 216.9L567.3 217.3L562.7 219.6ZM586.9 236.4L563.0 228.2M568.1 232.6L563.0 228.2L569.7 227.9L566.9 229.6ZM611.4 324.3L589.7 313.9M594.0 318.7L589.7 313.9L596.0 314.3L593.2 315.7ZM611.4 317.2L589.7 306.6M594.0 311.3L589.7 306.6L596.1 307.1L593.3 308.3ZM611.2 310.3L589.9 299.1M594.0 303.9L589.9 299.1L596.2 299.7L593.4 300.9ZM611.1 303.3L590.0 291.5M594.0 296.5L590.0 291.5L596.4 292.4L593.5 293.5ZM611.0 296.2L590.1 284.2M594.0 289.2L590.1 284.2L596.4 285.1L593.5 286.2ZM611.1 288.7L590.0 277.2M594.0 282.1L590.0 277.2L596.3 277.9L593.4 279.1ZM611.7 280.7L589.4 270.7M593.9 275.4L589.4 270.7L595.9 271.0L593.0 272.4ZM611.1 274.3L590.0 262.7M594.0 267.6L590.0 262.7L596.3 263.4L593.5 264.6ZM611.2 266.9L589.9 255.6M594.0 260.5L589.9 255.6L596.2 256.3L593.4 257.5ZM611.3 259.4L589.8 248.6M594.0 253.4L589.8 248.6L596.1 249.1L593.3 250.4ZM611.7 252.7L589.4 240.8M593.7 246.0L589.4 240.8L596.0 241.5L593.0 242.8ZM611.5 244.5L589.6 234.6M594.0 239.2L589.6 234.6L596.0 234.8L593.2 236.2ZM612.6 124.1L588.5 123.5M594.4 126.0L588.5 123.5L594.5 121.3L592.5 123.6ZM612.6 130.5L588.5 131.5M594.5 133.7L588.5 131.5L594.3 128.9L592.5 131.4ZM612.5 137.0L588.6 139.6M594.7 141.3L588.6 139.6L594.2 136.5L592.5 139.1ZM612.2 142.4L588.9 148.6M595.2 149.4L588.9 148.6L594.0 144.7L592.7 147.6ZM612.5 150.9L588.6 154.5M594.8 156.0L588.6 154.5L594.1 151.3L592.5 153.9ZM612.0 185.5L589.1 177.9M594.0 182.0L589.1 177.9L595.5 177.5L592.9 179.1ZM612.0 192.6L589.1 185.2M594.0 189.3L589.1 185.2L595.4 184.8L592.8 186.4ZM611.7 200.7L589.4 191.6M594.0 196.0L589.4 191.6L595.8 191.6L593.0 193.1ZM611.8 207.8L589.3 199.0M594.0 203.4L589.3 199.0L595.7 198.9L593.0 200.4ZM611.5 215.6L589.6 205.6M594.0 210.3L589.6 205.6L595.9 205.9L593.2 207.3ZM611.6 222.6L589.5 213.1M594.0 217.6L589.5 213.1L595.9 213.2L593.1 214.7ZM688.4 265.8L666.1 256.7M670.7 261.2L666.1 256.7L672.5 256.7L669.8 258.2ZM688.3 259.3L666.2 248.8M670.6 253.6L666.2 248.8L672.7 249.2L669.9 250.5ZM689.6 244.3L665.0 234.8M670.1 239.6L665.0 234.8L672.0 234.7L669.0 236.4ZM688.9 134.1L665.6 128.0M670.8 131.8L665.6 128.0L672.0 127.2L669.5 129.0ZM689.3 142.0L665.3 134.6M670.5 138.8L665.3 134.6L671.9 134.0L669.2 135.8ZM688.6 150.0L665.9 141.0M670.6 145.4L665.9 141.0L672.4 140.9L669.7 142.5ZM688.7 171.1L665.9 163.3M670.7 167.5L665.9 163.3L672.3 163.0L669.6 164.6ZM688.6 180.4L665.9 168.5M670.3 173.7L665.9 168.5L672.7 169.2L669.7 170.5ZM689.3 191.5L665.3 186.4M670.7 190.0L665.3 186.4L671.7 185.2L669.2 187.2ZM689.3 207.4L665.3 199.4M670.4 203.7L665.3 199.4L672.0 199.0L669.2 200.7ZM690.5 213.9L664.1 207.3M669.9 211.6L664.1 207.3L671.2 206.3L668.4 208.4ZM690.5 221.4L664.1 214.3M669.9 218.7L664.1 214.3L671.3 213.4L668.4 215.5ZM689.3 226.9L665.3 223.2M670.8 226.5L665.3 223.2L671.6 221.8L669.2 223.8ZM689.3 234.4L665.3 230.2M670.8 233.6L665.3 230.2L671.6 228.9L669.2 230.9ZM714.0 280.5L691.8 271.0M696.3 275.5L691.8 271.0L698.2 271.1L695.4 272.6ZM714.3 265.0L691.4 257.5M696.3 261.6L691.4 257.5L697.8 257.1L695.2 258.8ZM714.2 258.7L691.6 249.4M696.2 253.9L691.6 249.4L698.0 249.4L695.3 250.9ZM714.3 250.6L691.4 243.0M696.3 247.1L691.4 243.0L697.8 242.6L695.2 244.3ZM714.2 244.3L691.6 234.8M696.2 239.4L691.6 234.8L698.1 234.9L695.3 236.4ZM714.0 222.6L691.8 213.1M696.3 217.7L691.8 213.1L698.2 213.3L695.4 214.7ZM719.0 224.0L686.7 226.2M694.9 228.8L686.7 226.2L694.4 222.4L692.0 225.8ZM714.3 236.4L691.4 228.2M696.2 232.5L691.4 228.2L697.9 228.0L695.2 229.6ZM743.6 157.6L713.3 162.4M721.2 164.2L713.3 162.4L720.3 158.2L718.3 161.6ZM741.3 166.1L715.6 168.4M722.2 170.3L715.6 168.4L721.7 165.2L719.8 168.0ZM743.6 170.6L713.3 178.3M721.5 179.4L713.3 178.3L720.0 173.4L718.3 177.0ZM740.5 189.5L716.4 188.3M722.2 191.0L716.4 188.3L722.4 186.2L720.4 188.5ZM740.5 196.0L716.4 196.3M722.4 198.6L716.4 196.3L722.3 193.8L720.4 196.2ZM740.5 202.1L716.4 204.6M722.6 206.4L716.4 204.6L722.1 201.6L720.4 204.2ZM741.3 209.4L715.6 211.8M722.2 213.8L715.6 211.8L721.7 208.7L719.8 211.4ZM741.3 218.5L715.6 217.2M721.8 220.1L715.6 217.2L722.1 215.0L719.8 217.4ZM740.2 228.0L716.8 222.2M721.9 225.9L716.8 222.2L723.1 221.3L720.6 223.2ZM766.1 138.5L742.0 138.1M747.9 140.6L742.0 138.1L748.0 135.8L746.0 138.1ZM766.0 154.1L742.1 151.4M747.7 154.4L742.1 151.4L748.2 149.7L746.0 151.8ZM766.2 161.5L741.9 158.4M747.6 161.6L741.9 158.4L748.2 156.8L745.9 158.9ZM766.2 169.0L741.9 165.4M747.5 168.7L741.9 165.4L748.2 163.9L745.9 166.0ZM766.2 176.1L741.9 172.8M747.5 176.0L741.9 172.8L748.2 171.2L745.9 173.3ZM766.0 183.1L742.1 180.3M747.7 183.3L742.1 180.3L748.2 178.6L746.0 180.7ZM766.1 189.5L742.0 188.3M747.8 191.0L742.0 188.3L748.0 186.2L746.0 188.5ZM769.3 195.0L738.8 197.3M746.5 199.7L738.8 197.3L746.0 193.7L743.8 196.9ZM767.0 207.4L741.1 199.4M746.7 203.9L741.1 199.4L748.3 198.8L745.3 200.7ZM767.8 212.0L740.3 209.3M746.8 212.7L740.3 209.3L747.3 207.2L744.8 209.7ZM766.2 220.4L741.9 215.3M747.3 219.0L741.9 215.3L748.4 214.1L745.9 216.1ZM765.9 234.6L742.2 230.0M747.6 233.5L742.2 230.0L748.5 228.8L746.1 230.8ZM789.8 282.3L769.5 269.2M773.2 274.4L769.5 269.2L775.8 270.4L772.8 271.3ZM791.8 261.9L767.5 260.7M773.3 263.4L767.5 260.7L773.6 258.5L771.5 260.9ZM780.5 259.5L778.8 234.1M776.7 240.5L778.8 234.1L781.7 240.2L779.0 238.3ZM783.8 157.7L775.5 133.3M775.1 140.1L775.5 133.3L779.9 138.5L776.8 137.3ZM785.5 170.5L773.7 149.5M774.5 155.8L773.7 149.5L778.7 153.5L775.7 152.9ZM789.7 173.8L769.6 160.6M773.2 165.8L769.6 160.6L775.8 161.8L772.9 162.8ZM791.5 176.5L767.8 172.3M773.2 175.7L767.8 172.3L774.0 171.0L771.7 173.0ZM792.7 221.8L766.6 213.9M772.2 218.4L766.6 213.9L773.8 213.2L770.9 215.2ZM790.8 229.9L768.4 220.3M773.0 224.9L768.4 220.3L774.9 220.4L772.1 221.9ZM792.4 233.5L766.9 231.2M772.9 234.3L766.9 231.2L773.4 229.2L771.1 231.6ZM790.5 244.6L768.7 234.5M773.1 239.1L768.7 234.5L775.1 234.8L772.3 236.1ZM817.2 284.5L793.3 281.5M798.8 284.6L793.3 281.5L799.4 279.8L797.2 282.0ZM817.0 278.0L793.4 273.5M798.7 276.9L793.4 273.5L799.6 272.2L797.3 274.2ZM817.2 262.5L793.2 260.0M798.9 263.0L793.2 260.0L799.4 258.3L797.2 260.4ZM817.1 258.1L793.3 250.0M798.3 254.3L793.3 250.0L799.9 249.6L797.2 251.3ZM818.2 145.5L792.2 145.5M798.6 148.1L792.2 145.5L798.6 142.9L796.5 145.5ZM818.4 152.7L792.0 152.7M798.5 155.4L792.0 152.7L798.5 150.1L796.3 152.7ZM820.2 167.2L790.2 167.2M797.6 170.2L790.2 167.2L797.6 164.2L795.1 167.2ZM818.5 174.4L791.9 174.4M798.4 177.1L791.9 174.4L798.4 171.8L796.3 174.4ZM817.8 185.3L792.7 178.0M798.1 182.3L792.7 178.0L799.6 177.3L796.8 179.2ZM817.8 192.4L792.7 185.4M798.1 189.6L792.7 185.4L799.5 184.6L796.8 186.5ZM817.8 198.9L792.7 193.3M798.3 197.2L792.7 193.3L799.4 192.2L796.8 194.3ZM818.1 210.2L792.3 211.0M798.7 213.4L792.3 211.0L798.6 208.3L796.6 210.9ZM817.3 228.3L793.1 221.9M798.4 225.8L793.1 221.9L799.7 221.0L797.1 222.9ZM819.1 247.5L791.3 231.6M796.6 238.3L791.3 231.6L799.7 232.8L795.9 234.2ZM816.0 259.2L794.5 234.3M797.3 242.6L794.5 234.3L802.2 238.3L798.0 238.4Z" stroke="#000000" fill="none" stroke-width="1"/>
</g>
<path d="M859 736.5H880" stroke="#ff0000" fill="none" stroke-width="1"/><path d="M884 736.5L876 733.8L876 739.2Z" fill="#ff0000" stroke="none" shape-rendering="geometricPrecision"/>
</svg>
</body></html>
